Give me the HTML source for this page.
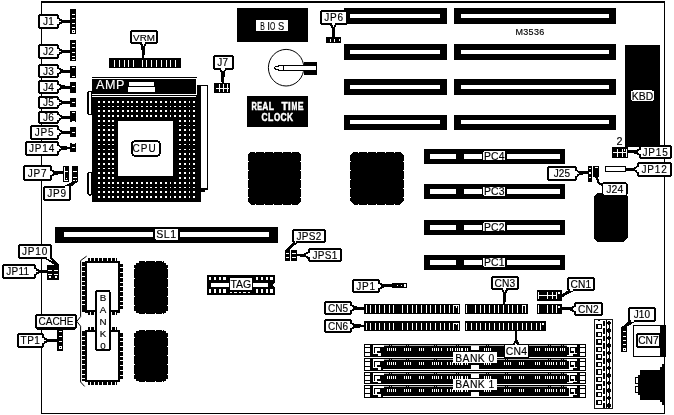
<!DOCTYPE html>
<html><head><meta charset="utf-8"><title>M3536</title>
<style>
html,body{margin:0;padding:0;background:#fff;}
body{width:674px;height:415px;overflow:hidden;font-family:"Liberation Sans",sans-serif;}
svg{display:block;filter:grayscale(1);font-family:"Liberation Sans",sans-serif;}
</style></head><body>
<svg width="674" height="415" viewBox="0 0 674 415" shape-rendering="crispEdges">
<rect x="0" y="0" width="674" height="415" fill="#fff"/>
<rect x="41.10" y="1.05" width="623.90" height="1.60" fill="#000" />
<rect x="41.10" y="412.70" width="623.90" height="1.20" fill="#000" />
<rect x="41.10" y="1.05" width="1.20" height="412.85" fill="#000" />
<rect x="664.00" y="1.05" width="1.00" height="412.85" fill="#000" />
<rect x="70.30" y="9.00" width="5.60" height="24.70" fill="#000" />
<rect x="72.00" y="14.00" width="3.00" height="1.00" fill="#fff" />
<rect x="72.00" y="18.00" width="3.00" height="1.00" fill="#fff" />
<rect x="72.00" y="23.00" width="3.00" height="1.00" fill="#fff" />
<rect x="72.00" y="27.00" width="3.00" height="1.00" fill="#fff" />
<rect x="72.00" y="30.00" width="3.00" height="3.00" fill="#fff" />
<rect x="73.00" y="31.00" width="1.00" height="1.00" fill="#000" />
<rect x="70.30" y="40.00" width="5.60" height="20.80" fill="#000" />
<rect x="72.00" y="43.00" width="3.00" height="1.00" fill="#fff" />
<rect x="72.00" y="47.00" width="3.00" height="1.00" fill="#fff" />
<rect x="72.00" y="52.00" width="3.00" height="1.00" fill="#fff" />
<rect x="72.00" y="56.00" width="3.00" height="1.00" fill="#fff" />
<rect x="72.00" y="59.00" width="3.00" height="1.00" fill="#fff" />
<rect x="70.30" y="66.00" width="5.60" height="12.00" fill="#000" />
<rect x="72.00" y="67.00" width="3.00" height="1.00" fill="#fff" />
<rect x="72.00" y="76.00" width="3.00" height="1.00" fill="#fff" />
<rect x="70.30" y="82.00" width="5.60" height="11.00" fill="#000" />
<rect x="72.00" y="86.00" width="3.00" height="1.00" fill="#fff" />
<rect x="70.30" y="97.50" width="5.60" height="9.80" fill="#000" />
<rect x="72.00" y="102.00" width="3.00" height="1.00" fill="#fff" />
<rect x="70.30" y="111.00" width="5.60" height="11.40" fill="#000" />
<rect x="72.00" y="112.00" width="3.00" height="1.00" fill="#fff" />
<rect x="72.00" y="121.00" width="3.00" height="1.00" fill="#fff" />
<rect x="70.30" y="127.00" width="5.60" height="10.40" fill="#000" />
<rect x="72.00" y="132.00" width="3.00" height="1.00" fill="#fff" />
<rect x="70.30" y="142.60" width="5.60" height="9.70" fill="#000" />
<rect x="72.00" y="143.00" width="3.00" height="1.00" fill="#fff" />
<rect x="72.00" y="147.00" width="3.00" height="1.00" fill="#fff" />
<rect x="39.00" y="15.00" width="19.00" height="13.00" fill="#fff" stroke="#000" stroke-width="2.0" rx="2.2"/>
<polygon points="58.00,18.30 61.41,20.63 70.30,21.35 70.30,21.85 61.39,22.43 58.00,24.70" fill="#fff" stroke="#000" stroke-width="2.0" stroke-linejoin="miter"/>
<rect x="56.40" y="19.30" width="2.70" height="4.40" fill="#fff" />
<rect x="39.00" y="45.00" width="19.00" height="13.00" fill="#fff" stroke="#000" stroke-width="2.0" rx="2.2"/>
<polygon points="58.00,48.30 61.41,50.63 70.30,51.35 70.30,51.85 61.39,52.43 58.00,54.70" fill="#fff" stroke="#000" stroke-width="2.0" stroke-linejoin="miter"/>
<rect x="56.40" y="49.30" width="2.70" height="4.40" fill="#fff" />
<rect x="39.00" y="65.00" width="19.00" height="12.00" fill="#fff" stroke="#000" stroke-width="2.0" rx="2.2"/>
<polygon points="58.00,67.80 61.44,70.27 70.31,71.35 70.29,71.85 61.35,72.06 58.00,74.20" fill="#fff" stroke="#000" stroke-width="2.0" stroke-linejoin="miter"/>
<rect x="56.40" y="68.80" width="2.70" height="4.40" fill="#fff" />
<rect x="39.00" y="81.00" width="19.00" height="12.00" fill="#fff" stroke="#000" stroke-width="2.0" rx="2.2"/>
<polygon points="58.00,83.80 61.42,86.18 70.31,87.05 70.29,87.55 61.38,87.98 58.00,90.20" fill="#fff" stroke="#000" stroke-width="2.0" stroke-linejoin="miter"/>
<rect x="56.40" y="84.80" width="2.70" height="4.40" fill="#fff" />
<rect x="39.00" y="97.00" width="19.00" height="11.00" fill="#fff" stroke="#000" stroke-width="2.0" rx="2.2"/>
<polygon points="58.00,99.30 61.39,101.57 70.30,102.15 70.30,102.65 61.41,103.37 58.00,105.70" fill="#fff" stroke="#000" stroke-width="2.0" stroke-linejoin="miter"/>
<rect x="56.40" y="100.30" width="2.70" height="4.40" fill="#fff" />
<rect x="39.00" y="112.00" width="19.00" height="11.00" fill="#fff" stroke="#000" stroke-width="2.0" rx="2.2"/>
<polygon points="58.00,114.30 61.38,116.52 70.29,116.95 70.31,117.45 61.42,118.32 58.00,120.70" fill="#fff" stroke="#000" stroke-width="2.0" stroke-linejoin="miter"/>
<rect x="56.40" y="115.30" width="2.70" height="4.40" fill="#fff" />
<rect x="31.00" y="126.00" width="27.00" height="13.00" fill="#fff" stroke="#000" stroke-width="2.0" rx="2.2"/>
<polygon points="58.00,129.30 61.38,131.52 70.29,131.95 70.31,132.45 61.42,133.32 58.00,135.70" fill="#fff" stroke="#000" stroke-width="2.0" stroke-linejoin="miter"/>
<rect x="56.40" y="130.30" width="2.70" height="4.40" fill="#fff" />
<rect x="26.00" y="142.00" width="32.00" height="13.00" fill="#fff" stroke="#000" stroke-width="2.0" rx="2.2"/>
<polygon points="58.00,145.30 61.34,147.41 70.29,147.55 70.31,148.05 61.45,149.21 58.00,151.70" fill="#fff" stroke="#000" stroke-width="2.0" stroke-linejoin="miter"/>
<rect x="56.40" y="146.30" width="2.70" height="4.40" fill="#fff" />
<rect x="62.90" y="165.80" width="6.10" height="16.00" fill="#000" />
<rect x="64.00" y="167.00" width="1.00" height="14.00" fill="#fff" />
<rect x="65.00" y="171.00" width="3.00" height="1.00" fill="#fff" />
<rect x="65.00" y="180.00" width="3.00" height="1.00" fill="#fff" />
<rect x="66.00" y="177.60" width="1.20" height="1.20" fill="#fff" />
<rect x="72.20" y="165.80" width="5.80" height="16.00" fill="#000" />
<rect x="73.30" y="171.00" width="3.70" height="1.00" fill="#fff" />
<rect x="73.30" y="177.00" width="3.70" height="1.00" fill="#fff" />
<rect x="73.30" y="180.00" width="3.70" height="1.00" fill="#fff" />
<rect x="24.00" y="166.00" width="27.00" height="14.00" fill="#fff" stroke="#000" stroke-width="2.0" rx="2.2"/>
<polygon points="51.00,169.80 54.38,172.04 63.20,172.55 63.20,173.05 54.41,173.84 51.00,176.20" fill="#fff" stroke="#000" stroke-width="2.0" stroke-linejoin="miter"/>
<rect x="49.40" y="170.80" width="2.70" height="4.40" fill="#fff" />
<rect x="44.00" y="187.00" width="26.00" height="13.00" fill="#fff" stroke="#000" stroke-width="2.0" rx="2.2"/>
<polygon points="64.40,187.00 69.44,184.47 75.47,181.59 75.73,182.01 70.38,186.01 69.60,187.00" fill="#fff" stroke="#000" stroke-width="2.0" stroke-linejoin="miter"/>
<rect x="65.40" y="185.90" width="3.20" height="2.70" fill="#fff" />
<rect x="108.90" y="57.90" width="72.10" height="10.10" fill="#000" />
<rect x="114.00" y="59.50" width="1.00" height="7.30" fill="#fff" />
<rect x="119.00" y="59.50" width="1.00" height="7.30" fill="#fff" />
<rect x="124.00" y="59.50" width="1.00" height="7.30" fill="#fff" />
<rect x="128.00" y="59.50" width="1.00" height="7.30" fill="#fff" />
<rect x="133.00" y="59.50" width="1.00" height="7.30" fill="#fff" />
<rect x="142.00" y="59.50" width="1.00" height="7.30" fill="#fff" />
<rect x="146.00" y="59.50" width="1.00" height="7.30" fill="#fff" />
<rect x="151.00" y="59.50" width="1.00" height="7.30" fill="#fff" />
<rect x="156.00" y="59.50" width="1.00" height="7.30" fill="#fff" />
<rect x="161.00" y="59.50" width="1.00" height="7.30" fill="#fff" />
<rect x="166.00" y="59.50" width="1.00" height="7.30" fill="#fff" />
<rect x="170.00" y="59.50" width="1.00" height="7.30" fill="#fff" />
<rect x="175.00" y="59.50" width="1.00" height="7.30" fill="#fff" />
<rect x="131.00" y="31.00" width="26.00" height="12.00" fill="#fff" stroke="#000" stroke-width="2.0" rx="2.2"/>
<polygon points="140.60,43.00 142.41,46.37 142.75,57.99 143.25,58.01 144.21,46.42 146.20,43.00" fill="#fff" stroke="#000" stroke-width="2.0" stroke-linejoin="miter"/>
<rect x="141.60" y="41.40" width="3.60" height="2.70" fill="#fff" />
<rect x="214.10" y="83.00" width="16.00" height="9.80" fill="#000" />
<rect x="215.60" y="88.10" width="13.20" height="1.10" fill="#fff" />
<rect x="218.70" y="84.40" width="1.00" height="7.20" fill="#fff" />
<rect x="222.90" y="84.40" width="1.00" height="7.20" fill="#fff" />
<rect x="227.10" y="84.40" width="1.00" height="7.20" fill="#fff" />
<rect x="214.00" y="56.00" width="19.00" height="13.00" fill="#fff" stroke="#000" stroke-width="2.0" rx="2.2"/>
<polygon points="220.20,69.00 222.05,72.39 222.55,83.00 223.05,83.00 223.85,72.41 225.80,69.00" fill="#fff" stroke="#000" stroke-width="2.0" stroke-linejoin="miter"/>
<rect x="221.20" y="67.40" width="3.60" height="2.70" fill="#fff" />
<rect x="92.00" y="77.00" width="105.00" height="1.30" fill="#000" />
<rect x="92.00" y="79.30" width="104.40" height="14.50" fill="#000" />
<rect x="92.50" y="79.60" width="103.50" height="0.80" fill="#999" />
<rect x="129.30" y="82.00" width="24.50" height="4.00" fill="#fff" />
<rect x="127.90" y="87.00" width="26.90" height="4.60" fill="#fff" />
<rect x="92.00" y="95.00" width="109.20" height="107.00" fill="#000" />
<rect x="92.00" y="96.20" width="104.40" height="1.00" fill="#fff" />
<rect x="197.00" y="85.00" width="11.00" height="105.00" fill="#000" />
<rect x="201.40" y="86.20" width="5.60" height="102.20" fill="#fff" />
<rect x="200.80" y="188.20" width="3.70" height="4.00" fill="#000" />
<rect x="88.00" y="91.50" width="3.60" height="22.70" fill="#fff" stroke="#000" stroke-width="1.3" rx="1"/>
<rect x="88.00" y="172.60" width="3.60" height="22.40" fill="#fff" stroke="#000" stroke-width="1.3" rx="1"/>
<rect x="118.40" y="121.00" width="54.80" height="54.80" fill="#fff" />
<rect x="98.10" y="100.90" width="1.90" height="1.70" fill="#fff" />
<rect x="102.86" y="100.90" width="1.90" height="1.70" fill="#fff" />
<rect x="107.62" y="100.90" width="1.90" height="1.70" fill="#fff" />
<rect x="112.38" y="100.90" width="1.90" height="1.70" fill="#fff" />
<rect x="117.14" y="100.90" width="1.90" height="1.70" fill="#fff" />
<rect x="121.90" y="100.90" width="1.90" height="1.70" fill="#fff" />
<rect x="126.66" y="100.90" width="1.90" height="1.70" fill="#fff" />
<rect x="131.42" y="100.90" width="1.90" height="1.70" fill="#fff" />
<rect x="136.18" y="100.90" width="1.90" height="1.70" fill="#fff" />
<rect x="140.94" y="100.90" width="1.90" height="1.70" fill="#fff" />
<rect x="145.70" y="100.90" width="1.90" height="1.70" fill="#fff" />
<rect x="150.46" y="100.90" width="1.90" height="1.70" fill="#fff" />
<rect x="155.22" y="100.90" width="1.90" height="1.70" fill="#fff" />
<rect x="159.98" y="100.90" width="1.90" height="1.70" fill="#fff" />
<rect x="164.74" y="100.90" width="1.90" height="1.70" fill="#fff" />
<rect x="169.50" y="100.90" width="1.90" height="1.70" fill="#fff" />
<rect x="174.26" y="100.90" width="1.90" height="1.70" fill="#fff" />
<rect x="179.02" y="100.90" width="1.90" height="1.70" fill="#fff" />
<rect x="183.78" y="100.90" width="1.90" height="1.70" fill="#fff" />
<rect x="188.54" y="100.90" width="1.90" height="1.70" fill="#fff" />
<rect x="193.30" y="100.90" width="1.90" height="1.70" fill="#fff" />
<rect x="98.10" y="105.67" width="1.90" height="1.70" fill="#fff" />
<rect x="102.86" y="105.67" width="1.90" height="1.70" fill="#fff" />
<rect x="107.62" y="105.67" width="1.90" height="1.70" fill="#fff" />
<rect x="112.38" y="105.67" width="1.90" height="1.70" fill="#fff" />
<rect x="117.14" y="105.67" width="1.90" height="1.70" fill="#fff" />
<rect x="121.90" y="105.67" width="1.90" height="1.70" fill="#fff" />
<rect x="126.66" y="105.67" width="1.90" height="1.70" fill="#fff" />
<rect x="131.42" y="105.67" width="1.90" height="1.70" fill="#fff" />
<rect x="136.18" y="105.67" width="1.90" height="1.70" fill="#fff" />
<rect x="140.94" y="105.67" width="1.90" height="1.70" fill="#fff" />
<rect x="145.70" y="105.67" width="1.90" height="1.70" fill="#fff" />
<rect x="150.46" y="105.67" width="1.90" height="1.70" fill="#fff" />
<rect x="155.22" y="105.67" width="1.90" height="1.70" fill="#fff" />
<rect x="159.98" y="105.67" width="1.90" height="1.70" fill="#fff" />
<rect x="164.74" y="105.67" width="1.90" height="1.70" fill="#fff" />
<rect x="169.50" y="105.67" width="1.90" height="1.70" fill="#fff" />
<rect x="174.26" y="105.67" width="1.90" height="1.70" fill="#fff" />
<rect x="179.02" y="105.67" width="1.90" height="1.70" fill="#fff" />
<rect x="183.78" y="105.67" width="1.90" height="1.70" fill="#fff" />
<rect x="188.54" y="105.67" width="1.90" height="1.70" fill="#fff" />
<rect x="193.30" y="105.67" width="1.90" height="1.70" fill="#fff" />
<rect x="98.10" y="110.43" width="1.90" height="1.70" fill="#fff" />
<rect x="102.86" y="110.43" width="1.90" height="1.70" fill="#fff" />
<rect x="107.62" y="110.43" width="1.90" height="1.70" fill="#fff" />
<rect x="112.38" y="110.43" width="1.90" height="1.70" fill="#fff" />
<rect x="117.14" y="110.43" width="1.90" height="1.70" fill="#fff" />
<rect x="121.90" y="110.43" width="1.90" height="1.70" fill="#fff" />
<rect x="126.66" y="110.43" width="1.90" height="1.70" fill="#fff" />
<rect x="131.42" y="110.43" width="1.90" height="1.70" fill="#fff" />
<rect x="136.18" y="110.43" width="1.90" height="1.70" fill="#fff" />
<rect x="140.94" y="110.43" width="1.90" height="1.70" fill="#fff" />
<rect x="145.70" y="110.43" width="1.90" height="1.70" fill="#fff" />
<rect x="150.46" y="110.43" width="1.90" height="1.70" fill="#fff" />
<rect x="155.22" y="110.43" width="1.90" height="1.70" fill="#fff" />
<rect x="159.98" y="110.43" width="1.90" height="1.70" fill="#fff" />
<rect x="164.74" y="110.43" width="1.90" height="1.70" fill="#fff" />
<rect x="169.50" y="110.43" width="1.90" height="1.70" fill="#fff" />
<rect x="174.26" y="110.43" width="1.90" height="1.70" fill="#fff" />
<rect x="179.02" y="110.43" width="1.90" height="1.70" fill="#fff" />
<rect x="183.78" y="110.43" width="1.90" height="1.70" fill="#fff" />
<rect x="188.54" y="110.43" width="1.90" height="1.70" fill="#fff" />
<rect x="193.30" y="110.43" width="1.90" height="1.70" fill="#fff" />
<rect x="98.10" y="115.20" width="1.90" height="1.70" fill="#fff" />
<rect x="102.86" y="115.20" width="1.90" height="1.70" fill="#fff" />
<rect x="107.62" y="115.20" width="1.90" height="1.70" fill="#fff" />
<rect x="112.38" y="115.20" width="1.90" height="1.70" fill="#fff" />
<rect x="117.14" y="115.20" width="1.90" height="1.70" fill="#fff" />
<rect x="121.90" y="115.20" width="1.90" height="1.70" fill="#fff" />
<rect x="126.66" y="115.20" width="1.90" height="1.70" fill="#fff" />
<rect x="131.42" y="115.20" width="1.90" height="1.70" fill="#fff" />
<rect x="136.18" y="115.20" width="1.90" height="1.70" fill="#fff" />
<rect x="140.94" y="115.20" width="1.90" height="1.70" fill="#fff" />
<rect x="145.70" y="115.20" width="1.90" height="1.70" fill="#fff" />
<rect x="150.46" y="115.20" width="1.90" height="1.70" fill="#fff" />
<rect x="155.22" y="115.20" width="1.90" height="1.70" fill="#fff" />
<rect x="159.98" y="115.20" width="1.90" height="1.70" fill="#fff" />
<rect x="164.74" y="115.20" width="1.90" height="1.70" fill="#fff" />
<rect x="169.50" y="115.20" width="1.90" height="1.70" fill="#fff" />
<rect x="174.26" y="115.20" width="1.90" height="1.70" fill="#fff" />
<rect x="179.02" y="115.20" width="1.90" height="1.70" fill="#fff" />
<rect x="183.78" y="115.20" width="1.90" height="1.70" fill="#fff" />
<rect x="188.54" y="115.20" width="1.90" height="1.70" fill="#fff" />
<rect x="193.30" y="115.20" width="1.90" height="1.70" fill="#fff" />
<rect x="98.10" y="119.96" width="1.90" height="1.70" fill="#fff" />
<rect x="102.86" y="119.96" width="1.90" height="1.70" fill="#fff" />
<rect x="107.62" y="119.96" width="1.90" height="1.70" fill="#fff" />
<rect x="112.38" y="119.96" width="1.90" height="1.70" fill="#fff" />
<rect x="179.02" y="119.96" width="1.90" height="1.70" fill="#fff" />
<rect x="183.78" y="119.96" width="1.90" height="1.70" fill="#fff" />
<rect x="188.54" y="119.96" width="1.90" height="1.70" fill="#fff" />
<rect x="193.30" y="119.96" width="1.90" height="1.70" fill="#fff" />
<rect x="98.10" y="124.73" width="1.90" height="1.70" fill="#fff" />
<rect x="102.86" y="124.73" width="1.90" height="1.70" fill="#fff" />
<rect x="107.62" y="124.73" width="1.90" height="1.70" fill="#fff" />
<rect x="112.38" y="124.73" width="1.90" height="1.70" fill="#fff" />
<rect x="179.02" y="124.73" width="1.90" height="1.70" fill="#fff" />
<rect x="183.78" y="124.73" width="1.90" height="1.70" fill="#fff" />
<rect x="188.54" y="124.73" width="1.90" height="1.70" fill="#fff" />
<rect x="193.30" y="124.73" width="1.90" height="1.70" fill="#fff" />
<rect x="98.10" y="129.49" width="1.90" height="1.70" fill="#fff" />
<rect x="102.86" y="129.49" width="1.90" height="1.70" fill="#fff" />
<rect x="107.62" y="129.49" width="1.90" height="1.70" fill="#fff" />
<rect x="112.38" y="129.49" width="1.90" height="1.70" fill="#fff" />
<rect x="179.02" y="129.49" width="1.90" height="1.70" fill="#fff" />
<rect x="183.78" y="129.49" width="1.90" height="1.70" fill="#fff" />
<rect x="188.54" y="129.49" width="1.90" height="1.70" fill="#fff" />
<rect x="193.30" y="129.49" width="1.90" height="1.70" fill="#fff" />
<rect x="98.10" y="134.25" width="1.90" height="1.70" fill="#fff" />
<rect x="102.86" y="134.25" width="1.90" height="1.70" fill="#fff" />
<rect x="107.62" y="134.25" width="1.90" height="1.70" fill="#fff" />
<rect x="112.38" y="134.25" width="1.90" height="1.70" fill="#fff" />
<rect x="179.02" y="134.25" width="1.90" height="1.70" fill="#fff" />
<rect x="183.78" y="134.25" width="1.90" height="1.70" fill="#fff" />
<rect x="188.54" y="134.25" width="1.90" height="1.70" fill="#fff" />
<rect x="193.30" y="134.25" width="1.90" height="1.70" fill="#fff" />
<rect x="98.10" y="139.02" width="1.90" height="1.70" fill="#fff" />
<rect x="102.86" y="139.02" width="1.90" height="1.70" fill="#fff" />
<rect x="107.62" y="139.02" width="1.90" height="1.70" fill="#fff" />
<rect x="112.38" y="139.02" width="1.90" height="1.70" fill="#fff" />
<rect x="179.02" y="139.02" width="1.90" height="1.70" fill="#fff" />
<rect x="183.78" y="139.02" width="1.90" height="1.70" fill="#fff" />
<rect x="188.54" y="139.02" width="1.90" height="1.70" fill="#fff" />
<rect x="193.30" y="139.02" width="1.90" height="1.70" fill="#fff" />
<rect x="98.10" y="143.78" width="1.90" height="1.70" fill="#fff" />
<rect x="102.86" y="143.78" width="1.90" height="1.70" fill="#fff" />
<rect x="107.62" y="143.78" width="1.90" height="1.70" fill="#fff" />
<rect x="112.38" y="143.78" width="1.90" height="1.70" fill="#fff" />
<rect x="179.02" y="143.78" width="1.90" height="1.70" fill="#fff" />
<rect x="183.78" y="143.78" width="1.90" height="1.70" fill="#fff" />
<rect x="188.54" y="143.78" width="1.90" height="1.70" fill="#fff" />
<rect x="193.30" y="143.78" width="1.90" height="1.70" fill="#fff" />
<rect x="98.10" y="148.55" width="1.90" height="1.70" fill="#fff" />
<rect x="102.86" y="148.55" width="1.90" height="1.70" fill="#fff" />
<rect x="107.62" y="148.55" width="1.90" height="1.70" fill="#fff" />
<rect x="112.38" y="148.55" width="1.90" height="1.70" fill="#fff" />
<rect x="179.02" y="148.55" width="1.90" height="1.70" fill="#fff" />
<rect x="183.78" y="148.55" width="1.90" height="1.70" fill="#fff" />
<rect x="188.54" y="148.55" width="1.90" height="1.70" fill="#fff" />
<rect x="193.30" y="148.55" width="1.90" height="1.70" fill="#fff" />
<rect x="98.10" y="153.31" width="1.90" height="1.70" fill="#fff" />
<rect x="102.86" y="153.31" width="1.90" height="1.70" fill="#fff" />
<rect x="107.62" y="153.31" width="1.90" height="1.70" fill="#fff" />
<rect x="112.38" y="153.31" width="1.90" height="1.70" fill="#fff" />
<rect x="179.02" y="153.31" width="1.90" height="1.70" fill="#fff" />
<rect x="183.78" y="153.31" width="1.90" height="1.70" fill="#fff" />
<rect x="188.54" y="153.31" width="1.90" height="1.70" fill="#fff" />
<rect x="193.30" y="153.31" width="1.90" height="1.70" fill="#fff" />
<rect x="98.10" y="158.08" width="1.90" height="1.70" fill="#fff" />
<rect x="102.86" y="158.08" width="1.90" height="1.70" fill="#fff" />
<rect x="107.62" y="158.08" width="1.90" height="1.70" fill="#fff" />
<rect x="112.38" y="158.08" width="1.90" height="1.70" fill="#fff" />
<rect x="179.02" y="158.08" width="1.90" height="1.70" fill="#fff" />
<rect x="183.78" y="158.08" width="1.90" height="1.70" fill="#fff" />
<rect x="188.54" y="158.08" width="1.90" height="1.70" fill="#fff" />
<rect x="193.30" y="158.08" width="1.90" height="1.70" fill="#fff" />
<rect x="98.10" y="162.84" width="1.90" height="1.70" fill="#fff" />
<rect x="102.86" y="162.84" width="1.90" height="1.70" fill="#fff" />
<rect x="107.62" y="162.84" width="1.90" height="1.70" fill="#fff" />
<rect x="112.38" y="162.84" width="1.90" height="1.70" fill="#fff" />
<rect x="179.02" y="162.84" width="1.90" height="1.70" fill="#fff" />
<rect x="183.78" y="162.84" width="1.90" height="1.70" fill="#fff" />
<rect x="188.54" y="162.84" width="1.90" height="1.70" fill="#fff" />
<rect x="193.30" y="162.84" width="1.90" height="1.70" fill="#fff" />
<rect x="98.10" y="167.61" width="1.90" height="1.70" fill="#fff" />
<rect x="102.86" y="167.61" width="1.90" height="1.70" fill="#fff" />
<rect x="107.62" y="167.61" width="1.90" height="1.70" fill="#fff" />
<rect x="112.38" y="167.61" width="1.90" height="1.70" fill="#fff" />
<rect x="179.02" y="167.61" width="1.90" height="1.70" fill="#fff" />
<rect x="183.78" y="167.61" width="1.90" height="1.70" fill="#fff" />
<rect x="188.54" y="167.61" width="1.90" height="1.70" fill="#fff" />
<rect x="193.30" y="167.61" width="1.90" height="1.70" fill="#fff" />
<rect x="98.10" y="172.38" width="1.90" height="1.70" fill="#fff" />
<rect x="102.86" y="172.38" width="1.90" height="1.70" fill="#fff" />
<rect x="107.62" y="172.38" width="1.90" height="1.70" fill="#fff" />
<rect x="112.38" y="172.38" width="1.90" height="1.70" fill="#fff" />
<rect x="179.02" y="172.38" width="1.90" height="1.70" fill="#fff" />
<rect x="183.78" y="172.38" width="1.90" height="1.70" fill="#fff" />
<rect x="188.54" y="172.38" width="1.90" height="1.70" fill="#fff" />
<rect x="193.30" y="172.38" width="1.90" height="1.70" fill="#fff" />
<rect x="98.10" y="177.14" width="1.90" height="1.70" fill="#fff" />
<rect x="102.86" y="177.14" width="1.90" height="1.70" fill="#fff" />
<rect x="107.62" y="177.14" width="1.90" height="1.70" fill="#fff" />
<rect x="112.38" y="177.14" width="1.90" height="1.70" fill="#fff" />
<rect x="179.02" y="177.14" width="1.90" height="1.70" fill="#fff" />
<rect x="183.78" y="177.14" width="1.90" height="1.70" fill="#fff" />
<rect x="188.54" y="177.14" width="1.90" height="1.70" fill="#fff" />
<rect x="193.30" y="177.14" width="1.90" height="1.70" fill="#fff" />
<rect x="98.10" y="181.91" width="1.90" height="1.70" fill="#fff" />
<rect x="102.86" y="181.91" width="1.90" height="1.70" fill="#fff" />
<rect x="107.62" y="181.91" width="1.90" height="1.70" fill="#fff" />
<rect x="112.38" y="181.91" width="1.90" height="1.70" fill="#fff" />
<rect x="117.14" y="181.91" width="1.90" height="1.70" fill="#fff" />
<rect x="121.90" y="181.91" width="1.90" height="1.70" fill="#fff" />
<rect x="126.66" y="181.91" width="1.90" height="1.70" fill="#fff" />
<rect x="131.42" y="181.91" width="1.90" height="1.70" fill="#fff" />
<rect x="136.18" y="181.91" width="1.90" height="1.70" fill="#fff" />
<rect x="140.94" y="181.91" width="1.90" height="1.70" fill="#fff" />
<rect x="145.70" y="181.91" width="1.90" height="1.70" fill="#fff" />
<rect x="150.46" y="181.91" width="1.90" height="1.70" fill="#fff" />
<rect x="155.22" y="181.91" width="1.90" height="1.70" fill="#fff" />
<rect x="159.98" y="181.91" width="1.90" height="1.70" fill="#fff" />
<rect x="164.74" y="181.91" width="1.90" height="1.70" fill="#fff" />
<rect x="169.50" y="181.91" width="1.90" height="1.70" fill="#fff" />
<rect x="174.26" y="181.91" width="1.90" height="1.70" fill="#fff" />
<rect x="179.02" y="181.91" width="1.90" height="1.70" fill="#fff" />
<rect x="183.78" y="181.91" width="1.90" height="1.70" fill="#fff" />
<rect x="188.54" y="181.91" width="1.90" height="1.70" fill="#fff" />
<rect x="193.30" y="181.91" width="1.90" height="1.70" fill="#fff" />
<rect x="98.10" y="186.67" width="1.90" height="1.70" fill="#fff" />
<rect x="102.86" y="186.67" width="1.90" height="1.70" fill="#fff" />
<rect x="107.62" y="186.67" width="1.90" height="1.70" fill="#fff" />
<rect x="112.38" y="186.67" width="1.90" height="1.70" fill="#fff" />
<rect x="117.14" y="186.67" width="1.90" height="1.70" fill="#fff" />
<rect x="121.90" y="186.67" width="1.90" height="1.70" fill="#fff" />
<rect x="126.66" y="186.67" width="1.90" height="1.70" fill="#fff" />
<rect x="131.42" y="186.67" width="1.90" height="1.70" fill="#fff" />
<rect x="136.18" y="186.67" width="1.90" height="1.70" fill="#fff" />
<rect x="140.94" y="186.67" width="1.90" height="1.70" fill="#fff" />
<rect x="145.70" y="186.67" width="1.90" height="1.70" fill="#fff" />
<rect x="150.46" y="186.67" width="1.90" height="1.70" fill="#fff" />
<rect x="155.22" y="186.67" width="1.90" height="1.70" fill="#fff" />
<rect x="159.98" y="186.67" width="1.90" height="1.70" fill="#fff" />
<rect x="164.74" y="186.67" width="1.90" height="1.70" fill="#fff" />
<rect x="169.50" y="186.67" width="1.90" height="1.70" fill="#fff" />
<rect x="174.26" y="186.67" width="1.90" height="1.70" fill="#fff" />
<rect x="179.02" y="186.67" width="1.90" height="1.70" fill="#fff" />
<rect x="183.78" y="186.67" width="1.90" height="1.70" fill="#fff" />
<rect x="188.54" y="186.67" width="1.90" height="1.70" fill="#fff" />
<rect x="193.30" y="186.67" width="1.90" height="1.70" fill="#fff" />
<rect x="98.10" y="191.44" width="1.90" height="1.70" fill="#fff" />
<rect x="102.86" y="191.44" width="1.90" height="1.70" fill="#fff" />
<rect x="107.62" y="191.44" width="1.90" height="1.70" fill="#fff" />
<rect x="112.38" y="191.44" width="1.90" height="1.70" fill="#fff" />
<rect x="117.14" y="191.44" width="1.90" height="1.70" fill="#fff" />
<rect x="121.90" y="191.44" width="1.90" height="1.70" fill="#fff" />
<rect x="126.66" y="191.44" width="1.90" height="1.70" fill="#fff" />
<rect x="131.42" y="191.44" width="1.90" height="1.70" fill="#fff" />
<rect x="136.18" y="191.44" width="1.90" height="1.70" fill="#fff" />
<rect x="140.94" y="191.44" width="1.90" height="1.70" fill="#fff" />
<rect x="145.70" y="191.44" width="1.90" height="1.70" fill="#fff" />
<rect x="150.46" y="191.44" width="1.90" height="1.70" fill="#fff" />
<rect x="155.22" y="191.44" width="1.90" height="1.70" fill="#fff" />
<rect x="159.98" y="191.44" width="1.90" height="1.70" fill="#fff" />
<rect x="164.74" y="191.44" width="1.90" height="1.70" fill="#fff" />
<rect x="169.50" y="191.44" width="1.90" height="1.70" fill="#fff" />
<rect x="174.26" y="191.44" width="1.90" height="1.70" fill="#fff" />
<rect x="179.02" y="191.44" width="1.90" height="1.70" fill="#fff" />
<rect x="183.78" y="191.44" width="1.90" height="1.70" fill="#fff" />
<rect x="188.54" y="191.44" width="1.90" height="1.70" fill="#fff" />
<rect x="193.30" y="191.44" width="1.90" height="1.70" fill="#fff" />
<rect x="98.10" y="196.20" width="1.90" height="1.70" fill="#fff" />
<rect x="102.86" y="196.20" width="1.90" height="1.70" fill="#fff" />
<rect x="107.62" y="196.20" width="1.90" height="1.70" fill="#fff" />
<rect x="112.38" y="196.20" width="1.90" height="1.70" fill="#fff" />
<rect x="117.14" y="196.20" width="1.90" height="1.70" fill="#fff" />
<rect x="121.90" y="196.20" width="1.90" height="1.70" fill="#fff" />
<rect x="126.66" y="196.20" width="1.90" height="1.70" fill="#fff" />
<rect x="131.42" y="196.20" width="1.90" height="1.70" fill="#fff" />
<rect x="136.18" y="196.20" width="1.90" height="1.70" fill="#fff" />
<rect x="140.94" y="196.20" width="1.90" height="1.70" fill="#fff" />
<rect x="145.70" y="196.20" width="1.90" height="1.70" fill="#fff" />
<rect x="150.46" y="196.20" width="1.90" height="1.70" fill="#fff" />
<rect x="155.22" y="196.20" width="1.90" height="1.70" fill="#fff" />
<rect x="159.98" y="196.20" width="1.90" height="1.70" fill="#fff" />
<rect x="164.74" y="196.20" width="1.90" height="1.70" fill="#fff" />
<rect x="169.50" y="196.20" width="1.90" height="1.70" fill="#fff" />
<rect x="174.26" y="196.20" width="1.90" height="1.70" fill="#fff" />
<rect x="179.02" y="196.20" width="1.90" height="1.70" fill="#fff" />
<rect x="183.78" y="196.20" width="1.90" height="1.70" fill="#fff" />
<rect x="188.54" y="196.20" width="1.90" height="1.70" fill="#fff" />
<rect x="193.30" y="196.20" width="1.90" height="1.70" fill="#fff" />
<rect x="132.00" y="141.00" width="28.00" height="15.00" fill="#fff" stroke="#000" stroke-width="2.0" rx="3.5"/>
<rect x="237.00" y="8.10" width="71.00" height="33.70" fill="#000" />
<rect x="256.00" y="20.10" width="32.10" height="10.90" fill="#fff" />
<rect x="303.80" y="61.90" width="13.10" height="12.70" fill="#000" />
<ellipse cx="286.1" cy="67.7" rx="17.7" ry="18.3" fill="#fff" stroke="#000" stroke-width="1.0" shape-rendering="auto"/>
<polygon points="274.5,67.8 275.8,66.5 278,66.5 278,65.5 316,65.5 316,70.5 278,70.5 278,69.5 275.8,69.5" fill="#fff" stroke="#000" stroke-width="1.0"/>
<rect x="282.60" y="65.00" width="1.00" height="5.80" fill="#000" />
<rect x="247.00" y="96.00" width="61.00" height="30.80" fill="#000" />
<polygon points="251.20,151.50 297.70,151.50 301.20,155.00 301.20,201.20 297.70,204.70 251.20,204.70 247.70,201.20 247.70,155.00" fill="#000"/>
<rect x="255.30" y="151.50" width="0.80" height="1.20" fill="#fff" />
<rect x="255.30" y="203.50" width="0.80" height="1.20" fill="#fff" />
<rect x="264.30" y="151.50" width="0.80" height="1.20" fill="#fff" />
<rect x="264.30" y="203.50" width="0.80" height="1.20" fill="#fff" />
<rect x="273.30" y="151.50" width="0.80" height="1.20" fill="#fff" />
<rect x="273.30" y="203.50" width="0.80" height="1.20" fill="#fff" />
<rect x="282.30" y="151.50" width="0.80" height="1.20" fill="#fff" />
<rect x="282.30" y="203.50" width="0.80" height="1.20" fill="#fff" />
<rect x="291.30" y="151.50" width="0.80" height="1.20" fill="#fff" />
<rect x="291.30" y="203.50" width="0.80" height="1.20" fill="#fff" />
<rect x="247.70" y="161.10" width="1.20" height="0.80" fill="#fff" />
<rect x="300.00" y="161.10" width="1.20" height="0.80" fill="#fff" />
<rect x="247.70" y="170.10" width="1.20" height="0.80" fill="#fff" />
<rect x="300.00" y="170.10" width="1.20" height="0.80" fill="#fff" />
<rect x="247.70" y="179.10" width="1.20" height="0.80" fill="#fff" />
<rect x="300.00" y="179.10" width="1.20" height="0.80" fill="#fff" />
<rect x="247.70" y="188.10" width="1.20" height="0.80" fill="#fff" />
<rect x="300.00" y="188.10" width="1.20" height="0.80" fill="#fff" />
<rect x="247.70" y="197.10" width="1.20" height="0.80" fill="#fff" />
<rect x="300.00" y="197.10" width="1.20" height="0.80" fill="#fff" />
<polygon points="353.70,151.50 400.20,151.50 403.70,155.00 403.70,201.20 400.20,204.70 353.70,204.70 350.20,201.20 350.20,155.00" fill="#000"/>
<rect x="357.80" y="151.50" width="0.80" height="1.20" fill="#fff" />
<rect x="357.80" y="203.50" width="0.80" height="1.20" fill="#fff" />
<rect x="366.80" y="151.50" width="0.80" height="1.20" fill="#fff" />
<rect x="366.80" y="203.50" width="0.80" height="1.20" fill="#fff" />
<rect x="375.80" y="151.50" width="0.80" height="1.20" fill="#fff" />
<rect x="375.80" y="203.50" width="0.80" height="1.20" fill="#fff" />
<rect x="384.80" y="151.50" width="0.80" height="1.20" fill="#fff" />
<rect x="384.80" y="203.50" width="0.80" height="1.20" fill="#fff" />
<rect x="393.80" y="151.50" width="0.80" height="1.20" fill="#fff" />
<rect x="393.80" y="203.50" width="0.80" height="1.20" fill="#fff" />
<rect x="350.20" y="161.10" width="1.20" height="0.80" fill="#fff" />
<rect x="402.50" y="161.10" width="1.20" height="0.80" fill="#fff" />
<rect x="350.20" y="170.10" width="1.20" height="0.80" fill="#fff" />
<rect x="402.50" y="170.10" width="1.20" height="0.80" fill="#fff" />
<rect x="350.20" y="179.10" width="1.20" height="0.80" fill="#fff" />
<rect x="402.50" y="179.10" width="1.20" height="0.80" fill="#fff" />
<rect x="350.20" y="188.10" width="1.20" height="0.80" fill="#fff" />
<rect x="402.50" y="188.10" width="1.20" height="0.80" fill="#fff" />
<rect x="350.20" y="197.10" width="1.20" height="0.80" fill="#fff" />
<rect x="402.50" y="197.10" width="1.20" height="0.80" fill="#fff" />
<polygon points="597.70,193.00 624.10,193.00 627.60,196.50 627.60,238.30 624.10,241.80 597.70,241.80 594.20,238.30 594.20,196.50" fill="#000"/>
<rect x="594.20" y="204.60" width="1.20" height="0.80" fill="#fff" />
<rect x="626.40" y="204.60" width="1.20" height="0.80" fill="#fff" />
<rect x="594.20" y="213.60" width="1.20" height="0.80" fill="#fff" />
<rect x="626.40" y="213.60" width="1.20" height="0.80" fill="#fff" />
<rect x="594.20" y="222.60" width="1.20" height="0.80" fill="#fff" />
<rect x="626.40" y="222.60" width="1.20" height="0.80" fill="#fff" />
<rect x="594.20" y="231.60" width="1.20" height="0.80" fill="#fff" />
<rect x="626.40" y="231.60" width="1.20" height="0.80" fill="#fff" />
<rect x="344.00" y="8.00" width="102.90" height="15.60" fill="#000" />
<rect x="350.00" y="13.80" width="90.40" height="4.10" fill="#fff" />
<rect x="454.00" y="8.00" width="161.80" height="15.60" fill="#000" />
<rect x="460.90" y="13.80" width="148.30" height="4.10" fill="#fff" />
<rect x="344.00" y="44.30" width="102.90" height="15.60" fill="#000" />
<rect x="350.00" y="50.10" width="90.40" height="4.10" fill="#fff" />
<rect x="454.00" y="44.30" width="161.80" height="15.60" fill="#000" />
<rect x="460.90" y="50.10" width="148.30" height="4.10" fill="#fff" />
<rect x="344.00" y="79.30" width="102.90" height="15.60" fill="#000" />
<rect x="350.00" y="85.10" width="90.40" height="4.10" fill="#fff" />
<rect x="454.00" y="79.30" width="161.80" height="15.60" fill="#000" />
<rect x="460.90" y="85.10" width="148.30" height="4.10" fill="#fff" />
<rect x="344.00" y="114.50" width="102.90" height="15.60" fill="#000" />
<rect x="350.00" y="120.30" width="90.40" height="4.10" fill="#fff" />
<rect x="454.00" y="114.50" width="161.80" height="15.60" fill="#000" />
<rect x="460.90" y="120.30" width="148.30" height="4.10" fill="#fff" />
<rect x="326.30" y="37.00" width="15.00" height="5.80" fill="#000" />
<rect x="329.90" y="38.50" width="1.20" height="3.10" fill="#fff" />
<rect x="333.90" y="38.50" width="1.20" height="3.10" fill="#fff" />
<rect x="337.60" y="38.60" width="2.40" height="2.80" fill="#fff" />
<rect x="338.40" y="39.40" width="0.80" height="1.20" fill="#000" />
<rect x="321.00" y="11.00" width="26.00" height="13.00" fill="#fff" stroke="#000" stroke-width="2.0" rx="2.2"/>
<polygon points="330.60,24.00 332.50,27.40 333.15,37.00 333.65,37.00 334.30,27.40 336.20,24.00" fill="#fff" stroke="#000" stroke-width="2.0" stroke-linejoin="miter"/>
<rect x="331.60" y="22.40" width="3.60" height="2.70" fill="#fff" />
<rect x="625.00" y="44.80" width="35.10" height="102.00" fill="#000" />
<rect x="631.1" y="90.4" width="22.7" height="10.4" rx="1.8" fill="#fff"/>
<rect x="423.90" y="148.90" width="141.10" height="15.10" fill="#000" />
<rect x="430.00" y="153.80" width="26.00" height="5.20" fill="#fff" />
<rect x="463.80" y="153.80" width="20.20" height="5.20" fill="#fff" />
<rect x="505.00" y="153.80" width="55.40" height="5.20" fill="#fff" />
<rect x="482.2" y="150.60" width="24.4" height="11" rx="2" fill="#000"/>
<rect x="483.3" y="151.40" width="22.1" height="9.0" rx="1" fill="#fff"/>
<rect x="423.90" y="184.20" width="141.10" height="15.10" fill="#000" />
<rect x="430.00" y="189.10" width="26.00" height="5.20" fill="#fff" />
<rect x="463.80" y="189.10" width="20.20" height="5.20" fill="#fff" />
<rect x="505.00" y="189.10" width="55.40" height="5.20" fill="#fff" />
<rect x="482.2" y="185.90" width="24.4" height="11" rx="2" fill="#000"/>
<rect x="483.3" y="186.70" width="22.1" height="9.0" rx="1" fill="#fff"/>
<rect x="423.90" y="219.80" width="141.10" height="15.10" fill="#000" />
<rect x="430.00" y="224.70" width="26.00" height="5.20" fill="#fff" />
<rect x="463.80" y="224.70" width="20.20" height="5.20" fill="#fff" />
<rect x="505.00" y="224.70" width="55.40" height="5.20" fill="#fff" />
<rect x="482.2" y="221.50" width="24.4" height="11" rx="2" fill="#000"/>
<rect x="483.3" y="222.30" width="22.1" height="9.0" rx="1" fill="#fff"/>
<rect x="423.90" y="255.20" width="141.10" height="15.10" fill="#000" />
<rect x="430.00" y="260.10" width="26.00" height="5.20" fill="#fff" />
<rect x="463.80" y="260.10" width="20.20" height="5.20" fill="#fff" />
<rect x="505.00" y="260.10" width="55.40" height="5.20" fill="#fff" />
<rect x="482.2" y="256.90" width="24.4" height="11" rx="2" fill="#000"/>
<rect x="483.3" y="257.70" width="22.1" height="9.0" rx="1" fill="#fff"/>
<rect x="612.00" y="147.40" width="15.90" height="10.50" fill="#000" />
<rect x="613.00" y="152.00" width="13.00" height="1.00" fill="#fff" />
<rect x="617.00" y="148.60" width="1.00" height="8.40" fill="#fff" />
<rect x="622.00" y="148.60" width="1.00" height="8.40" fill="#fff" />
<rect x="626.00" y="148.60" width="1.00" height="8.40" fill="#fff" />
<rect x="624.00" y="149.00" width="1.00" height="2.00" fill="#fff" />
<rect x="640.00" y="146.00" width="31.00" height="12.00" fill="#fff" stroke="#000" stroke-width="2.0" rx="2.2"/>
<polygon points="640.00,148.80 636.63,150.99 628.01,151.35 627.99,151.85 636.57,152.79 640.00,155.20" fill="#fff" stroke="#000" stroke-width="2.0" stroke-linejoin="miter"/>
<rect x="638.90" y="149.80" width="2.70" height="4.40" fill="#fff" />
<rect x="605.40" y="166.60" width="20.00" height="5.20" fill="#fff" stroke="#000" stroke-width="1.0" rx="0"/>
<rect x="638.00" y="163.00" width="33.00" height="13.00" fill="#fff" stroke="#000" stroke-width="2.0" rx="2.2"/>
<polygon points="638.00,166.30 634.62,168.52 625.81,168.95 625.79,169.45 634.58,170.32 638.00,172.70" fill="#fff" stroke="#000" stroke-width="2.0" stroke-linejoin="miter"/>
<rect x="636.90" y="167.30" width="2.70" height="4.40" fill="#fff" />
<rect x="587.50" y="165.90" width="4.20" height="15.70" fill="#000" />
<rect x="588.60" y="167.90" width="2.00" height="1.20" fill="#fff" />
<rect x="588.60" y="172.40" width="2.00" height="1.20" fill="#fff" />
<rect x="588.60" y="177.20" width="2.00" height="1.20" fill="#fff" />
<rect x="593.40" y="165.90" width="5.80" height="11.30" fill="#000" />
<rect x="594.80" y="167.20" width="3.20" height="1.00" fill="#fff" />
<rect x="548.00" y="167.00" width="28.00" height="13.00" fill="#fff" stroke="#000" stroke-width="2.0" rx="2.2"/>
<polygon points="576.00,170.30 579.32,172.34 587.48,172.35 587.52,172.85 579.46,174.13 576.00,176.70" fill="#fff" stroke="#000" stroke-width="2.0" stroke-linejoin="miter"/>
<rect x="574.40" y="171.30" width="2.70" height="4.40" fill="#fff" />
<polyline points="596.3,176.5 598.5,182.5 603,186" fill="none" stroke="#000" stroke-width="2.2"/>
<rect x="602.30" y="182.90" width="24.70" height="12.30" fill="#fff" stroke="#000" stroke-width="1.3" rx="1.5"/>
<rect x="55.10" y="226.90" width="222.90" height="16.00" fill="#000" />
<rect x="63.70" y="232.00" width="89.20" height="4.90" fill="#fff" />
<rect x="179.90" y="232.00" width="89.30" height="4.90" fill="#fff" />
<rect x="155" y="228.9" width="23.3" height="10.9" rx="1.5" fill="#fff"/>
<rect x="47.10" y="264.90" width="11.90" height="14.70" fill="#000" />
<rect x="48.10" y="270.00" width="3.80" height="0.90" fill="#fff" />
<rect x="53.60" y="270.00" width="4.30" height="0.90" fill="#fff" />
<rect x="48.10" y="274.00" width="3.80" height="0.90" fill="#fff" />
<rect x="53.60" y="274.00" width="4.30" height="0.90" fill="#fff" />
<rect x="49.00" y="276.40" width="1.80" height="1.80" fill="#fff" />
<rect x="54.70" y="276.40" width="2.10" height="1.80" fill="#fff" />
<rect x="19.00" y="245.00" width="32.00" height="13.00" fill="#fff" stroke="#000" stroke-width="2.0" rx="2.2"/>
<polygon points="45.80,258.00 49.43,260.68 57.82,265.64 58.18,265.16 51.12,258.45 50.60,258.00" fill="#fff" stroke="#000" stroke-width="2.0" stroke-linejoin="miter"/>
<rect x="46.80" y="256.40" width="2.80" height="2.70" fill="#fff" />
<rect x="3.00" y="265.00" width="32.00" height="13.00" fill="#fff" stroke="#000" stroke-width="2.0" rx="2.2"/>
<polygon points="35.00,268.30 38.39,270.57 47.40,271.15 47.40,271.65 38.41,272.37 35.00,274.70" fill="#fff" stroke="#000" stroke-width="2.0" stroke-linejoin="miter"/>
<rect x="33.40" y="269.30" width="2.70" height="4.40" fill="#fff" />
<rect x="87.80" y="258.10" width="29.60" height="5.20" fill="#000" />
<rect x="87.80" y="309.80" width="29.60" height="5.20" fill="#000" />
<rect x="82.20" y="261.50" width="5.20" height="50.10" fill="#000" />
<rect x="118.00" y="263.70" width="5.20" height="45.70" fill="#000" />
<rect x="85.20" y="260.50" width="35.00" height="3.60" fill="#000" />
<rect x="85.20" y="309.00" width="35.00" height="3.60" fill="#000" />
<rect x="82.00" y="266.00" width="3.00" height="1.00" fill="#fff" />
<rect x="120.00" y="267.00" width="4.00" height="1.00" fill="#fff" />
<rect x="82.00" y="271.00" width="3.00" height="1.00" fill="#fff" />
<rect x="120.00" y="272.00" width="4.00" height="1.00" fill="#fff" />
<rect x="82.00" y="276.00" width="3.00" height="1.00" fill="#fff" />
<rect x="120.00" y="277.00" width="4.00" height="1.00" fill="#fff" />
<rect x="82.00" y="281.00" width="3.00" height="1.00" fill="#fff" />
<rect x="120.00" y="282.00" width="4.00" height="1.00" fill="#fff" />
<rect x="82.00" y="285.00" width="3.00" height="1.00" fill="#fff" />
<rect x="120.00" y="286.00" width="4.00" height="1.00" fill="#fff" />
<rect x="82.00" y="290.00" width="3.00" height="1.00" fill="#fff" />
<rect x="120.00" y="291.00" width="4.00" height="1.00" fill="#fff" />
<rect x="82.00" y="295.00" width="3.00" height="1.00" fill="#fff" />
<rect x="120.00" y="296.00" width="4.00" height="1.00" fill="#fff" />
<rect x="82.00" y="300.00" width="3.00" height="1.00" fill="#fff" />
<rect x="120.00" y="301.00" width="4.00" height="1.00" fill="#fff" />
<rect x="82.00" y="304.00" width="3.00" height="1.00" fill="#fff" />
<rect x="120.00" y="305.00" width="4.00" height="1.00" fill="#fff" />
<rect x="90.00" y="258.00" width="1.00" height="3.00" fill="#fff" />
<rect x="90.00" y="312.00" width="1.00" height="3.00" fill="#fff" />
<rect x="94.00" y="258.00" width="1.00" height="3.00" fill="#fff" />
<rect x="94.00" y="312.00" width="1.00" height="3.00" fill="#fff" />
<rect x="98.00" y="258.00" width="1.00" height="3.00" fill="#fff" />
<rect x="98.00" y="312.00" width="1.00" height="3.00" fill="#fff" />
<rect x="102.00" y="258.00" width="1.00" height="3.00" fill="#fff" />
<rect x="102.00" y="312.00" width="1.00" height="3.00" fill="#fff" />
<rect x="107.00" y="258.00" width="1.00" height="3.00" fill="#fff" />
<rect x="107.00" y="312.00" width="1.00" height="3.00" fill="#fff" />
<rect x="111.00" y="258.00" width="1.00" height="3.00" fill="#fff" />
<rect x="111.00" y="312.00" width="1.00" height="3.00" fill="#fff" />
<rect x="115.00" y="258.00" width="1.00" height="3.00" fill="#fff" />
<rect x="115.00" y="312.00" width="1.00" height="3.00" fill="#fff" />
<rect x="87.00" y="262.70" width="31.40" height="47.70" fill="#fff" />
<rect x="87.80" y="327.40" width="29.60" height="5.20" fill="#000" />
<rect x="87.80" y="379.40" width="29.60" height="5.20" fill="#000" />
<rect x="82.20" y="330.80" width="5.20" height="50.40" fill="#000" />
<rect x="118.00" y="333.00" width="5.20" height="46.00" fill="#000" />
<rect x="85.20" y="329.80" width="35.00" height="3.60" fill="#000" />
<rect x="85.20" y="378.60" width="35.00" height="3.60" fill="#000" />
<rect x="82.00" y="336.00" width="3.00" height="1.00" fill="#fff" />
<rect x="120.00" y="337.00" width="4.00" height="1.00" fill="#fff" />
<rect x="82.00" y="340.00" width="3.00" height="1.00" fill="#fff" />
<rect x="120.00" y="341.00" width="4.00" height="1.00" fill="#fff" />
<rect x="82.00" y="345.00" width="3.00" height="1.00" fill="#fff" />
<rect x="120.00" y="346.00" width="4.00" height="1.00" fill="#fff" />
<rect x="82.00" y="350.00" width="3.00" height="1.00" fill="#fff" />
<rect x="120.00" y="351.00" width="4.00" height="1.00" fill="#fff" />
<rect x="82.00" y="355.00" width="3.00" height="1.00" fill="#fff" />
<rect x="120.00" y="356.00" width="4.00" height="1.00" fill="#fff" />
<rect x="82.00" y="359.00" width="3.00" height="1.00" fill="#fff" />
<rect x="120.00" y="360.00" width="4.00" height="1.00" fill="#fff" />
<rect x="82.00" y="364.00" width="3.00" height="1.00" fill="#fff" />
<rect x="120.00" y="365.00" width="4.00" height="1.00" fill="#fff" />
<rect x="82.00" y="369.00" width="3.00" height="1.00" fill="#fff" />
<rect x="120.00" y="370.00" width="4.00" height="1.00" fill="#fff" />
<rect x="82.00" y="374.00" width="3.00" height="1.00" fill="#fff" />
<rect x="120.00" y="375.00" width="4.00" height="1.00" fill="#fff" />
<rect x="82.00" y="378.00" width="3.00" height="1.00" fill="#fff" />
<rect x="120.00" y="379.00" width="4.00" height="1.00" fill="#fff" />
<rect x="90.00" y="327.00" width="1.00" height="3.00" fill="#fff" />
<rect x="90.00" y="382.00" width="1.00" height="3.00" fill="#fff" />
<rect x="94.00" y="327.00" width="1.00" height="3.00" fill="#fff" />
<rect x="94.00" y="382.00" width="1.00" height="3.00" fill="#fff" />
<rect x="98.00" y="327.00" width="1.00" height="3.00" fill="#fff" />
<rect x="98.00" y="382.00" width="1.00" height="3.00" fill="#fff" />
<rect x="102.00" y="327.00" width="1.00" height="3.00" fill="#fff" />
<rect x="102.00" y="382.00" width="1.00" height="3.00" fill="#fff" />
<rect x="107.00" y="327.00" width="1.00" height="3.00" fill="#fff" />
<rect x="107.00" y="382.00" width="1.00" height="3.00" fill="#fff" />
<rect x="111.00" y="327.00" width="1.00" height="3.00" fill="#fff" />
<rect x="111.00" y="382.00" width="1.00" height="3.00" fill="#fff" />
<rect x="115.00" y="327.00" width="1.00" height="3.00" fill="#fff" />
<rect x="115.00" y="382.00" width="1.00" height="3.00" fill="#fff" />
<rect x="87.00" y="332.00" width="31.40" height="48.00" fill="#fff" />
<polygon points="139.00,261.00 164.20,261.00 164.20,262.50 166.20,262.50 166.20,264.50 168.20,264.50 168.20,310.70 166.20,310.70 166.20,312.70 164.20,312.70 164.20,314.20 139.00,314.20 139.00,312.70 136.00,312.70 136.00,310.70 134.00,310.70 134.00,264.50 136.00,264.50 136.00,262.50 139.00,262.50" fill="#000"/>
<rect x="167.20" y="268.00" width="1.00" height="1.00" fill="#fff" />
<rect x="134.00" y="268.00" width="1.00" height="1.00" fill="#fff" />
<rect x="167.20" y="278.00" width="1.00" height="1.00" fill="#fff" />
<rect x="134.00" y="278.00" width="1.00" height="1.00" fill="#fff" />
<rect x="167.20" y="287.00" width="1.00" height="1.00" fill="#fff" />
<rect x="134.00" y="287.00" width="1.00" height="1.00" fill="#fff" />
<rect x="167.20" y="296.00" width="1.00" height="1.00" fill="#fff" />
<rect x="134.00" y="296.00" width="1.00" height="1.00" fill="#fff" />
<rect x="167.20" y="305.00" width="1.00" height="1.00" fill="#fff" />
<rect x="134.00" y="305.00" width="1.00" height="1.00" fill="#fff" />
<rect x="145.00" y="261.00" width="1.00" height="1.20" fill="#fff" />
<rect x="145.00" y="313.00" width="1.00" height="1.20" fill="#fff" />
<rect x="155.00" y="261.00" width="1.00" height="1.20" fill="#fff" />
<rect x="155.00" y="313.00" width="1.00" height="1.20" fill="#fff" />
<rect x="162.00" y="261.00" width="1.00" height="1.20" fill="#fff" />
<rect x="162.00" y="313.00" width="1.00" height="1.20" fill="#fff" />
<polygon points="139.00,329.60 164.20,329.60 164.20,331.10 166.20,331.10 166.20,333.10 168.20,333.10 168.20,378.90 166.20,378.90 166.20,380.90 164.20,380.90 164.20,382.40 139.00,382.40 139.00,380.90 136.00,380.90 136.00,378.90 134.00,378.90 134.00,333.10 136.00,333.10 136.00,331.10 139.00,331.10" fill="#000"/>
<rect x="167.20" y="337.00" width="1.00" height="1.00" fill="#fff" />
<rect x="134.00" y="337.00" width="1.00" height="1.00" fill="#fff" />
<rect x="167.20" y="346.00" width="1.00" height="1.00" fill="#fff" />
<rect x="134.00" y="346.00" width="1.00" height="1.00" fill="#fff" />
<rect x="167.20" y="355.00" width="1.00" height="1.00" fill="#fff" />
<rect x="134.00" y="355.00" width="1.00" height="1.00" fill="#fff" />
<rect x="167.20" y="364.00" width="1.00" height="1.00" fill="#fff" />
<rect x="134.00" y="364.00" width="1.00" height="1.00" fill="#fff" />
<rect x="167.20" y="374.00" width="1.00" height="1.00" fill="#fff" />
<rect x="134.00" y="374.00" width="1.00" height="1.00" fill="#fff" />
<rect x="145.00" y="329.60" width="1.00" height="1.20" fill="#fff" />
<rect x="145.00" y="381.20" width="1.00" height="1.20" fill="#fff" />
<rect x="155.00" y="329.60" width="1.00" height="1.20" fill="#fff" />
<rect x="155.00" y="381.20" width="1.00" height="1.20" fill="#fff" />
<rect x="162.00" y="329.60" width="1.00" height="1.20" fill="#fff" />
<rect x="162.00" y="381.20" width="1.00" height="1.20" fill="#fff" />
<polyline points="86.6,256.2 80.6,260.6 80.6,316.6 76.8,321.4 80.6,326.2 80.6,382.0 84.6,386.4" fill="none" stroke="#000" stroke-width="1.0" shape-rendering="auto"/>
<rect x="96.00" y="290.90" width="14.00" height="59.30" fill="#fff" stroke="#000" stroke-width="1.9" rx="2.5"/>
<rect x="37.00" y="326.00" width="38.00" height="4.00" fill="#000" />
<rect x="36.00" y="315.00" width="40.00" height="13.00" fill="#fff" stroke="#000" stroke-width="2.0" rx="2.2"/>
<rect x="57.20" y="329.60" width="5.60" height="20.90" fill="#000" />
<rect x="59.00" y="331.00" width="3.00" height="1.00" fill="#fff" />
<rect x="59.00" y="336.00" width="3.00" height="1.00" fill="#fff" />
<rect x="59.00" y="341.00" width="3.00" height="1.00" fill="#fff" />
<rect x="59.00" y="346.00" width="3.00" height="3.00" fill="#fff" />
<rect x="60.00" y="347.00" width="1.00" height="1.00" fill="#000" />
<rect x="18.00" y="334.00" width="25.00" height="13.00" fill="#fff" stroke="#000" stroke-width="2.0" rx="2.2"/>
<polygon points="43.00,337.30 46.39,339.58 57.40,340.15 57.40,340.65 46.41,341.38 43.00,343.70" fill="#fff" stroke="#000" stroke-width="2.0" stroke-linejoin="miter"/>
<rect x="41.40" y="338.30" width="2.70" height="4.40" fill="#fff" />
<rect x="284.90" y="249.90" width="5.10" height="10.70" fill="#000" />
<rect x="291.40" y="249.90" width="5.40" height="10.70" fill="#000" />
<rect x="285.80" y="253.00" width="3.20" height="1.00" fill="#fff" />
<rect x="285.80" y="256.60" width="3.20" height="1.00" fill="#fff" />
<rect x="292.40" y="253.00" width="3.20" height="1.00" fill="#fff" />
<rect x="292.40" y="256.60" width="3.20" height="1.00" fill="#fff" />
<rect x="293.00" y="230.00" width="32.00" height="12.00" fill="#fff" stroke="#000" stroke-width="2.0" rx="2.2"/>
<polygon points="293.80,242.00 293.49,243.30 287.19,250.19 287.61,250.61 294.35,244.14 297.40,242.00" fill="#fff" stroke="#000" stroke-width="2.0" stroke-linejoin="miter"/>
<rect x="294.80" y="240.40" width="1.60" height="2.70" fill="#fff" />
<rect x="309.00" y="249.00" width="32.00" height="12.00" fill="#fff" stroke="#000" stroke-width="2.0" rx="2.2"/>
<polygon points="309.00,251.80 303.99,254.82 297.20,255.30 297.20,255.50 304.01,255.52 309.00,258.20" fill="#fff" stroke="#000" stroke-width="2.0" stroke-linejoin="miter"/>
<rect x="307.90" y="252.80" width="2.70" height="4.40" fill="#fff" />
<rect x="207.00" y="275.10" width="67.80" height="19.40" fill="#000" />
<rect x="209.10" y="277.00" width="2.30" height="3.00" fill="#fff" />
<rect x="209.10" y="289.20" width="2.30" height="3.80" fill="#fff" />
<rect x="213.80" y="277.00" width="2.30" height="3.00" fill="#fff" />
<rect x="213.80" y="289.20" width="2.30" height="3.80" fill="#fff" />
<rect x="218.50" y="277.00" width="2.30" height="3.00" fill="#fff" />
<rect x="218.50" y="289.20" width="2.30" height="3.80" fill="#fff" />
<rect x="223.20" y="277.00" width="2.30" height="3.00" fill="#fff" />
<rect x="223.20" y="289.20" width="2.30" height="3.80" fill="#fff" />
<rect x="256.10" y="277.00" width="2.30" height="3.00" fill="#fff" />
<rect x="256.10" y="289.20" width="2.30" height="3.80" fill="#fff" />
<rect x="260.80" y="277.00" width="2.30" height="3.00" fill="#fff" />
<rect x="260.80" y="289.20" width="2.30" height="3.80" fill="#fff" />
<rect x="265.50" y="277.00" width="2.30" height="3.00" fill="#fff" />
<rect x="265.50" y="289.20" width="2.30" height="3.80" fill="#fff" />
<rect x="270.20" y="277.00" width="2.30" height="3.00" fill="#fff" />
<rect x="270.20" y="289.20" width="2.30" height="3.80" fill="#fff" />
<rect x="210.70" y="283.00" width="17.80" height="4.00" fill="#fff" />
<rect x="253.00" y="283.00" width="15.20" height="4.00" fill="#fff" />
<polygon points="274.8,283 272.3,285 274.8,287" fill="#fff"/>
<rect x="229.60" y="291.60" width="2.40" height="1.00" fill="#fff" />
<rect x="234.20" y="291.60" width="2.40" height="1.00" fill="#fff" />
<rect x="238.80" y="291.60" width="2.40" height="1.00" fill="#fff" />
<rect x="243.40" y="291.60" width="2.40" height="1.00" fill="#fff" />
<rect x="248.00" y="291.60" width="2.40" height="1.00" fill="#fff" />
<rect x="229.60" y="278.40" width="22.60" height="11.40" fill="#fff" />
<rect x="391.60" y="283.20" width="15.70" height="4.60" fill="#000" />
<rect x="397.00" y="284.60" width="1.20" height="1.80" fill="#fff" />
<rect x="401.20" y="284.60" width="1.20" height="1.80" fill="#fff" />
<rect x="403.80" y="284.40" width="2.40" height="2.20" fill="#fff" />
<rect x="404.60" y="285.10" width="0.80" height="0.80" fill="#000" />
<rect x="353.00" y="280.00" width="26.00" height="12.00" fill="#fff" stroke="#000" stroke-width="2.0" rx="2.2"/>
<polygon points="379.00,282.80 382.35,284.94 391.79,285.15 391.81,285.65 382.44,286.74 379.00,289.20" fill="#fff" stroke="#000" stroke-width="2.0" stroke-linejoin="miter"/>
<rect x="377.40" y="283.80" width="2.70" height="4.40" fill="#fff" />
<rect x="364.10" y="304.10" width="95.90" height="9.70" fill="#000" />
<rect x="366.00" y="305.30" width="1.15" height="7.30" fill="#fff" />
<rect x="370.00" y="305.30" width="1.15" height="7.30" fill="#fff" />
<rect x="375.00" y="305.30" width="1.15" height="7.30" fill="#fff" />
<rect x="379.00" y="305.30" width="1.15" height="7.30" fill="#fff" />
<rect x="384.00" y="305.30" width="1.15" height="7.30" fill="#fff" />
<rect x="389.00" y="305.30" width="1.15" height="7.30" fill="#fff" />
<rect x="393.00" y="305.30" width="1.15" height="7.30" fill="#fff" />
<rect x="402.00" y="305.30" width="1.15" height="7.30" fill="#fff" />
<rect x="407.00" y="305.30" width="1.15" height="7.30" fill="#fff" />
<rect x="412.00" y="305.30" width="1.15" height="7.30" fill="#fff" />
<rect x="416.00" y="305.30" width="1.15" height="7.30" fill="#fff" />
<rect x="421.00" y="305.30" width="1.15" height="7.30" fill="#fff" />
<rect x="426.00" y="305.30" width="1.15" height="7.30" fill="#fff" />
<rect x="430.00" y="305.30" width="1.15" height="7.30" fill="#fff" />
<rect x="435.00" y="305.30" width="1.15" height="7.30" fill="#fff" />
<rect x="440.00" y="305.30" width="1.15" height="7.30" fill="#fff" />
<rect x="444.00" y="305.30" width="1.15" height="7.30" fill="#fff" />
<rect x="449.00" y="305.30" width="1.15" height="7.30" fill="#fff" />
<rect x="453.00" y="305.30" width="1.15" height="7.30" fill="#fff" />
<rect x="458.00" y="305.30" width="1.15" height="7.30" fill="#fff" />
<rect x="454.00" y="305.30" width="5.00" height="1.00" fill="#fff" />
<rect x="456.00" y="306.30" width="1.00" height="1.40" fill="#fff" />
<rect x="364.10" y="321.30" width="95.90" height="9.70" fill="#000" />
<rect x="366.00" y="322.50" width="1.15" height="7.30" fill="#fff" />
<rect x="370.00" y="322.50" width="1.15" height="7.30" fill="#fff" />
<rect x="375.00" y="322.50" width="1.15" height="7.30" fill="#fff" />
<rect x="379.00" y="322.50" width="1.15" height="7.30" fill="#fff" />
<rect x="384.00" y="322.50" width="1.15" height="7.30" fill="#fff" />
<rect x="389.00" y="322.50" width="1.15" height="7.30" fill="#fff" />
<rect x="393.00" y="322.50" width="1.15" height="7.30" fill="#fff" />
<rect x="402.00" y="322.50" width="1.15" height="7.30" fill="#fff" />
<rect x="407.00" y="322.50" width="1.15" height="7.30" fill="#fff" />
<rect x="412.00" y="322.50" width="1.15" height="7.30" fill="#fff" />
<rect x="416.00" y="322.50" width="1.15" height="7.30" fill="#fff" />
<rect x="421.00" y="322.50" width="1.15" height="7.30" fill="#fff" />
<rect x="426.00" y="322.50" width="1.15" height="7.30" fill="#fff" />
<rect x="430.00" y="322.50" width="1.15" height="7.30" fill="#fff" />
<rect x="435.00" y="322.50" width="1.15" height="7.30" fill="#fff" />
<rect x="440.00" y="322.50" width="1.15" height="7.30" fill="#fff" />
<rect x="444.00" y="322.50" width="1.15" height="7.30" fill="#fff" />
<rect x="449.00" y="322.50" width="1.15" height="7.30" fill="#fff" />
<rect x="453.00" y="322.50" width="1.15" height="7.30" fill="#fff" />
<rect x="458.00" y="322.50" width="1.15" height="7.30" fill="#fff" />
<rect x="454.00" y="322.50" width="5.00" height="1.00" fill="#fff" />
<rect x="456.00" y="323.50" width="1.00" height="1.40" fill="#fff" />
<rect x="464.90" y="304.20" width="63.30" height="9.60" fill="#000" />
<rect x="466.00" y="305.40" width="1.15" height="7.20" fill="#fff" />
<rect x="475.00" y="305.40" width="1.15" height="7.20" fill="#fff" />
<rect x="480.00" y="305.40" width="1.15" height="7.20" fill="#fff" />
<rect x="484.00" y="305.40" width="1.15" height="7.20" fill="#fff" />
<rect x="489.00" y="305.40" width="1.15" height="7.20" fill="#fff" />
<rect x="494.00" y="305.40" width="1.15" height="7.20" fill="#fff" />
<rect x="498.00" y="305.40" width="1.15" height="7.20" fill="#fff" />
<rect x="503.00" y="305.40" width="1.15" height="7.20" fill="#fff" />
<rect x="508.00" y="305.40" width="1.15" height="7.20" fill="#fff" />
<rect x="512.00" y="305.40" width="1.15" height="7.20" fill="#fff" />
<rect x="517.00" y="305.40" width="1.15" height="7.20" fill="#fff" />
<rect x="522.00" y="305.40" width="1.00" height="7.20" fill="#fff" />
<rect x="523.00" y="305.40" width="3.00" height="1.00" fill="#fff" />
<rect x="525.40" y="306.40" width="1.00" height="6.20" fill="#fff" />
<rect x="464.90" y="321.30" width="81.30" height="9.60" fill="#000" />
<rect x="466.00" y="322.50" width="1.15" height="7.20" fill="#fff" />
<rect x="471.00" y="322.50" width="1.15" height="7.20" fill="#fff" />
<rect x="476.00" y="322.50" width="1.15" height="7.20" fill="#fff" />
<rect x="480.00" y="322.50" width="1.15" height="7.20" fill="#fff" />
<rect x="485.00" y="322.50" width="1.15" height="7.20" fill="#fff" />
<rect x="489.00" y="322.50" width="1.15" height="7.20" fill="#fff" />
<rect x="494.00" y="322.50" width="1.15" height="7.20" fill="#fff" />
<rect x="499.00" y="322.50" width="1.15" height="7.20" fill="#fff" />
<rect x="503.00" y="322.50" width="1.15" height="7.20" fill="#fff" />
<rect x="508.00" y="322.50" width="1.15" height="7.20" fill="#fff" />
<rect x="512.00" y="322.50" width="1.15" height="7.20" fill="#fff" />
<rect x="517.00" y="322.50" width="1.15" height="7.20" fill="#fff" />
<rect x="522.00" y="322.50" width="1.15" height="7.20" fill="#fff" />
<rect x="526.00" y="322.50" width="1.15" height="7.20" fill="#fff" />
<rect x="531.00" y="322.50" width="1.15" height="7.20" fill="#fff" />
<rect x="536.00" y="322.50" width="1.15" height="7.20" fill="#fff" />
<rect x="540.00" y="322.50" width="1.15" height="7.20" fill="#fff" />
<rect x="542.00" y="323.00" width="2.00" height="2.00" fill="#fff" />
<rect x="325.00" y="302.00" width="26.00" height="12.00" fill="#fff" stroke="#000" stroke-width="2.0" rx="2.2"/>
<polygon points="351.00,304.80 354.44,307.26 364.21,308.35 364.19,308.85 354.36,309.05 351.00,311.20" fill="#fff" stroke="#000" stroke-width="2.0" stroke-linejoin="miter"/>
<rect x="349.40" y="305.80" width="2.70" height="4.40" fill="#fff" />
<rect x="325.00" y="320.00" width="26.00" height="12.00" fill="#fff" stroke="#000" stroke-width="2.0" rx="2.2"/>
<polygon points="351.00,322.80 354.40,325.10 364.20,325.75 364.20,326.25 354.40,326.90 351.00,329.20" fill="#fff" stroke="#000" stroke-width="2.0" stroke-linejoin="miter"/>
<rect x="349.40" y="323.80" width="2.70" height="4.40" fill="#fff" />
<rect x="492.00" y="277.00" width="26.00" height="12.00" fill="#fff" stroke="#000" stroke-width="2.0" rx="2.2"/>
<polygon points="502.20,289.00 503.72,292.35 503.75,304.39 504.25,304.41 505.52,292.44 507.40,289.00" fill="#fff" stroke="#000" stroke-width="2.0" stroke-linejoin="miter"/>
<rect x="503.20" y="287.40" width="3.20" height="2.70" fill="#fff" />
<rect x="536.90" y="290.00" width="24.90" height="10.50" fill="#000" />
<rect x="538.00" y="295.00" width="19.00" height="1.00" fill="#fff" />
<rect x="538.00" y="292.00" width="1.00" height="7.00" fill="#fff" />
<rect x="547.00" y="292.00" width="1.00" height="7.00" fill="#fff" />
<rect x="552.00" y="292.00" width="1.00" height="7.00" fill="#fff" />
<rect x="556.00" y="292.00" width="1.00" height="7.00" fill="#fff" />
<rect x="558.00" y="292.00" width="2.00" height="2.00" fill="#fff" />
<rect x="536.90" y="304.00" width="24.90" height="9.80" fill="#000" />
<rect x="538.00" y="305.40" width="1.00" height="7.10" fill="#fff" />
<rect x="547.00" y="305.40" width="1.00" height="7.10" fill="#fff" />
<rect x="552.00" y="305.40" width="1.00" height="7.10" fill="#fff" />
<rect x="556.00" y="305.40" width="1.00" height="7.10" fill="#fff" />
<rect x="558.00" y="306.00" width="2.00" height="2.00" fill="#fff" />
<rect x="568.00" y="278.00" width="26.00" height="12.00" fill="#fff" stroke="#000" stroke-width="2.0" rx="2.2"/>
<polygon points="569.20,290.00 569.25,290.77 562.24,295.55 562.56,296.05 569.89,291.79 574.00,290.00" fill="#fff" stroke="#000" stroke-width="2.0" stroke-linejoin="miter"/>
<rect x="570.20" y="288.40" width="2.80" height="2.70" fill="#fff" />
<rect x="575.00" y="303.00" width="27.00" height="12.00" fill="#fff" stroke="#000" stroke-width="2.0" rx="2.2"/>
<polygon points="575.00,305.80 571.65,307.94 562.01,308.15 561.99,308.65 571.56,309.74 575.00,312.20" fill="#fff" stroke="#000" stroke-width="2.0" stroke-linejoin="miter"/>
<rect x="573.90" y="306.80" width="2.70" height="4.40" fill="#fff" />
<rect x="364.00" y="344.00" width="222.00" height="13.00" fill="#000" />
<rect x="365.00" y="345.00" width="5.00" height="2.00" fill="#fff" />
<rect x="365.00" y="348.00" width="5.00" height="4.00" fill="#fff" />
<rect x="365.00" y="353.00" width="5.00" height="3.00" fill="#fff" />
<rect x="580.00" y="345.00" width="5.00" height="2.00" fill="#fff" />
<rect x="580.00" y="348.00" width="5.00" height="4.00" fill="#fff" />
<rect x="580.00" y="353.00" width="5.00" height="3.00" fill="#fff" />
<rect x="372.60" y="345.00" width="8.40" height="11.00" fill="#fff" />
<rect x="374.00" y="347.00" width="7.00" height="6.00" fill="#000" />
<rect x="375.30" y="348.30" width="4.40" height="2.70" fill="#fff" />
<rect x="375.30" y="351.00" width="1.70" height="2.00" fill="#fff" />
<rect x="372.60" y="353.60" width="5.40" height="2.40" fill="#000" />
<rect x="381.00" y="345.00" width="3.00" height="2.00" fill="#fff" />
<rect x="569.00" y="345.00" width="8.40" height="11.00" fill="#fff" />
<rect x="569.60" y="347.00" width="7.00" height="6.00" fill="#000" />
<rect x="570.80" y="348.30" width="4.40" height="2.70" fill="#fff" />
<rect x="573.50" y="351.00" width="1.70" height="2.00" fill="#fff" />
<rect x="572.60" y="353.60" width="4.80" height="2.40" fill="#000" />
<rect x="567.00" y="345.00" width="2.00" height="2.00" fill="#fff" />
<rect x="567.00" y="355.00" width="2.00" height="1.00" fill="#fff" />
<rect x="384.00" y="345.00" width="183.00" height="1.00" fill="#b0b0b0" />
<rect x="387.00" y="348.00" width="1.00" height="3.00" fill="#fff" />
<rect x="389.00" y="348.00" width="1.00" height="3.00" fill="#fff" />
<rect x="391.00" y="348.00" width="1.00" height="3.00" fill="#fff" />
<rect x="393.00" y="348.00" width="1.00" height="3.00" fill="#fff" />
<rect x="395.00" y="348.00" width="1.00" height="3.00" fill="#fff" />
<rect x="404.00" y="348.00" width="1.00" height="3.00" fill="#fff" />
<rect x="406.00" y="348.00" width="1.00" height="3.00" fill="#fff" />
<rect x="408.00" y="348.00" width="1.00" height="3.00" fill="#fff" />
<rect x="410.00" y="348.00" width="1.00" height="3.00" fill="#fff" />
<rect x="419.00" y="348.00" width="1.00" height="3.00" fill="#fff" />
<rect x="421.00" y="348.00" width="1.00" height="3.00" fill="#fff" />
<rect x="423.00" y="348.00" width="1.00" height="3.00" fill="#fff" />
<rect x="432.00" y="348.00" width="1.00" height="3.00" fill="#fff" />
<rect x="434.00" y="348.00" width="1.00" height="3.00" fill="#fff" />
<rect x="436.00" y="348.00" width="1.00" height="3.00" fill="#fff" />
<rect x="438.00" y="348.00" width="1.00" height="3.00" fill="#fff" />
<rect x="441.00" y="348.00" width="1.00" height="3.00" fill="#fff" />
<rect x="447.00" y="348.00" width="1.00" height="3.00" fill="#fff" />
<rect x="450.00" y="348.00" width="1.00" height="3.00" fill="#fff" />
<rect x="452.00" y="348.00" width="1.00" height="3.00" fill="#fff" />
<rect x="455.00" y="348.00" width="1.00" height="3.00" fill="#fff" />
<rect x="457.00" y="348.00" width="1.00" height="3.00" fill="#fff" />
<rect x="459.00" y="348.00" width="1.00" height="3.00" fill="#fff" />
<rect x="461.00" y="348.00" width="1.00" height="3.00" fill="#fff" />
<rect x="462.00" y="348.00" width="1.00" height="3.00" fill="#fff" />
<rect x="465.00" y="348.00" width="1.00" height="3.00" fill="#fff" />
<rect x="467.00" y="348.00" width="1.00" height="3.00" fill="#fff" />
<rect x="484.00" y="348.00" width="1.00" height="3.00" fill="#fff" />
<rect x="486.00" y="348.00" width="1.00" height="3.00" fill="#fff" />
<rect x="488.00" y="348.00" width="1.00" height="3.00" fill="#fff" />
<rect x="490.00" y="348.00" width="1.00" height="3.00" fill="#fff" />
<rect x="504.00" y="348.00" width="1.00" height="3.00" fill="#fff" />
<rect x="506.00" y="348.00" width="1.00" height="3.00" fill="#fff" />
<rect x="508.00" y="348.00" width="1.00" height="3.00" fill="#fff" />
<rect x="510.00" y="348.00" width="1.00" height="3.00" fill="#fff" />
<rect x="519.00" y="348.00" width="1.00" height="3.00" fill="#fff" />
<rect x="521.00" y="348.00" width="1.00" height="3.00" fill="#fff" />
<rect x="523.00" y="348.00" width="1.00" height="3.00" fill="#fff" />
<rect x="535.00" y="348.00" width="1.00" height="3.00" fill="#fff" />
<rect x="537.00" y="348.00" width="1.00" height="3.00" fill="#fff" />
<rect x="539.00" y="348.00" width="1.00" height="3.00" fill="#fff" />
<rect x="545.00" y="348.00" width="1.00" height="3.00" fill="#fff" />
<rect x="547.00" y="348.00" width="1.00" height="3.00" fill="#fff" />
<rect x="549.00" y="348.00" width="1.00" height="3.00" fill="#fff" />
<rect x="551.00" y="348.00" width="1.00" height="3.00" fill="#fff" />
<rect x="553.00" y="348.00" width="1.00" height="3.00" fill="#fff" />
<rect x="556.00" y="348.00" width="1.00" height="3.00" fill="#fff" />
<rect x="560.00" y="348.00" width="1.00" height="3.00" fill="#fff" />
<rect x="562.00" y="348.00" width="1.00" height="3.00" fill="#fff" />
<rect x="564.00" y="348.00" width="1.00" height="3.00" fill="#fff" />
<rect x="389.00" y="345.00" width="1.00" height="1.00" fill="#000" />
<rect x="391.00" y="345.00" width="1.00" height="1.00" fill="#000" />
<rect x="406.00" y="345.00" width="1.00" height="1.00" fill="#000" />
<rect x="408.00" y="345.00" width="1.00" height="1.00" fill="#000" />
<rect x="434.00" y="345.00" width="1.00" height="1.00" fill="#000" />
<rect x="436.00" y="345.00" width="1.00" height="1.00" fill="#000" />
<rect x="456.00" y="345.00" width="1.00" height="1.00" fill="#000" />
<rect x="458.00" y="345.00" width="1.00" height="1.00" fill="#000" />
<rect x="486.00" y="345.00" width="1.00" height="1.00" fill="#000" />
<rect x="488.00" y="345.00" width="1.00" height="1.00" fill="#000" />
<rect x="505.00" y="345.00" width="1.00" height="1.00" fill="#000" />
<rect x="507.00" y="345.00" width="1.00" height="1.00" fill="#000" />
<rect x="548.00" y="345.00" width="1.00" height="1.00" fill="#000" />
<rect x="550.00" y="345.00" width="1.00" height="1.00" fill="#000" />
<rect x="561.00" y="345.00" width="1.00" height="1.00" fill="#000" />
<rect x="563.00" y="345.00" width="1.00" height="1.00" fill="#000" />
<rect x="471.00" y="346.00" width="8.00" height="4.00" fill="#fff" />
<rect x="364.00" y="358.00" width="222.00" height="13.00" fill="#000" />
<rect x="365.00" y="359.00" width="5.00" height="2.00" fill="#fff" />
<rect x="365.00" y="362.00" width="5.00" height="4.00" fill="#fff" />
<rect x="365.00" y="367.00" width="5.00" height="3.00" fill="#fff" />
<rect x="580.00" y="359.00" width="5.00" height="2.00" fill="#fff" />
<rect x="580.00" y="362.00" width="5.00" height="4.00" fill="#fff" />
<rect x="580.00" y="367.00" width="5.00" height="3.00" fill="#fff" />
<rect x="372.60" y="359.00" width="8.40" height="11.00" fill="#fff" />
<rect x="374.00" y="361.00" width="7.00" height="6.00" fill="#000" />
<rect x="375.30" y="362.30" width="4.40" height="2.70" fill="#fff" />
<rect x="375.30" y="365.00" width="1.70" height="2.00" fill="#fff" />
<rect x="372.60" y="367.60" width="5.40" height="2.40" fill="#000" />
<rect x="381.00" y="359.00" width="3.00" height="2.00" fill="#fff" />
<rect x="569.00" y="359.00" width="8.40" height="11.00" fill="#fff" />
<rect x="569.60" y="361.00" width="7.00" height="6.00" fill="#000" />
<rect x="570.80" y="362.30" width="4.40" height="2.70" fill="#fff" />
<rect x="573.50" y="365.00" width="1.70" height="2.00" fill="#fff" />
<rect x="572.60" y="367.60" width="4.80" height="2.40" fill="#000" />
<rect x="567.00" y="359.00" width="2.00" height="2.00" fill="#fff" />
<rect x="567.00" y="369.00" width="2.00" height="1.00" fill="#fff" />
<rect x="384.00" y="359.00" width="183.00" height="1.00" fill="#b0b0b0" />
<rect x="383.00" y="369.00" width="184.00" height="1.00" fill="#fff" />
<rect x="387.00" y="362.00" width="1.00" height="3.00" fill="#fff" />
<rect x="389.00" y="362.00" width="1.00" height="3.00" fill="#fff" />
<rect x="391.00" y="362.00" width="1.00" height="3.00" fill="#fff" />
<rect x="393.00" y="362.00" width="1.00" height="3.00" fill="#fff" />
<rect x="395.00" y="362.00" width="1.00" height="3.00" fill="#fff" />
<rect x="404.00" y="362.00" width="1.00" height="3.00" fill="#fff" />
<rect x="406.00" y="362.00" width="1.00" height="3.00" fill="#fff" />
<rect x="408.00" y="362.00" width="1.00" height="3.00" fill="#fff" />
<rect x="410.00" y="362.00" width="1.00" height="3.00" fill="#fff" />
<rect x="419.00" y="362.00" width="1.00" height="3.00" fill="#fff" />
<rect x="421.00" y="362.00" width="1.00" height="3.00" fill="#fff" />
<rect x="423.00" y="362.00" width="1.00" height="3.00" fill="#fff" />
<rect x="432.00" y="362.00" width="1.00" height="3.00" fill="#fff" />
<rect x="434.00" y="362.00" width="1.00" height="3.00" fill="#fff" />
<rect x="436.00" y="362.00" width="1.00" height="3.00" fill="#fff" />
<rect x="438.00" y="362.00" width="1.00" height="3.00" fill="#fff" />
<rect x="441.00" y="362.00" width="1.00" height="3.00" fill="#fff" />
<rect x="447.00" y="362.00" width="1.00" height="3.00" fill="#fff" />
<rect x="450.00" y="362.00" width="1.00" height="3.00" fill="#fff" />
<rect x="452.00" y="362.00" width="1.00" height="3.00" fill="#fff" />
<rect x="455.00" y="362.00" width="1.00" height="3.00" fill="#fff" />
<rect x="457.00" y="362.00" width="1.00" height="3.00" fill="#fff" />
<rect x="459.00" y="362.00" width="1.00" height="3.00" fill="#fff" />
<rect x="461.00" y="362.00" width="1.00" height="3.00" fill="#fff" />
<rect x="462.00" y="362.00" width="1.00" height="3.00" fill="#fff" />
<rect x="465.00" y="362.00" width="1.00" height="3.00" fill="#fff" />
<rect x="467.00" y="362.00" width="1.00" height="3.00" fill="#fff" />
<rect x="484.00" y="362.00" width="1.00" height="3.00" fill="#fff" />
<rect x="486.00" y="362.00" width="1.00" height="3.00" fill="#fff" />
<rect x="488.00" y="362.00" width="1.00" height="3.00" fill="#fff" />
<rect x="490.00" y="362.00" width="1.00" height="3.00" fill="#fff" />
<rect x="504.00" y="362.00" width="1.00" height="3.00" fill="#fff" />
<rect x="506.00" y="362.00" width="1.00" height="3.00" fill="#fff" />
<rect x="508.00" y="362.00" width="1.00" height="3.00" fill="#fff" />
<rect x="510.00" y="362.00" width="1.00" height="3.00" fill="#fff" />
<rect x="519.00" y="362.00" width="1.00" height="3.00" fill="#fff" />
<rect x="521.00" y="362.00" width="1.00" height="3.00" fill="#fff" />
<rect x="523.00" y="362.00" width="1.00" height="3.00" fill="#fff" />
<rect x="535.00" y="362.00" width="1.00" height="3.00" fill="#fff" />
<rect x="537.00" y="362.00" width="1.00" height="3.00" fill="#fff" />
<rect x="539.00" y="362.00" width="1.00" height="3.00" fill="#fff" />
<rect x="545.00" y="362.00" width="1.00" height="3.00" fill="#fff" />
<rect x="547.00" y="362.00" width="1.00" height="3.00" fill="#fff" />
<rect x="549.00" y="362.00" width="1.00" height="3.00" fill="#fff" />
<rect x="551.00" y="362.00" width="1.00" height="3.00" fill="#fff" />
<rect x="553.00" y="362.00" width="1.00" height="3.00" fill="#fff" />
<rect x="556.00" y="362.00" width="1.00" height="3.00" fill="#fff" />
<rect x="560.00" y="362.00" width="1.00" height="3.00" fill="#fff" />
<rect x="562.00" y="362.00" width="1.00" height="3.00" fill="#fff" />
<rect x="564.00" y="362.00" width="1.00" height="3.00" fill="#fff" />
<rect x="389.00" y="359.00" width="1.00" height="1.00" fill="#000" />
<rect x="391.00" y="359.00" width="1.00" height="1.00" fill="#000" />
<rect x="406.00" y="359.00" width="1.00" height="1.00" fill="#000" />
<rect x="408.00" y="359.00" width="1.00" height="1.00" fill="#000" />
<rect x="434.00" y="359.00" width="1.00" height="1.00" fill="#000" />
<rect x="436.00" y="359.00" width="1.00" height="1.00" fill="#000" />
<rect x="456.00" y="359.00" width="1.00" height="1.00" fill="#000" />
<rect x="458.00" y="359.00" width="1.00" height="1.00" fill="#000" />
<rect x="486.00" y="359.00" width="1.00" height="1.00" fill="#000" />
<rect x="488.00" y="359.00" width="1.00" height="1.00" fill="#000" />
<rect x="505.00" y="359.00" width="1.00" height="1.00" fill="#000" />
<rect x="507.00" y="359.00" width="1.00" height="1.00" fill="#000" />
<rect x="548.00" y="359.00" width="1.00" height="1.00" fill="#000" />
<rect x="550.00" y="359.00" width="1.00" height="1.00" fill="#000" />
<rect x="561.00" y="359.00" width="1.00" height="1.00" fill="#000" />
<rect x="563.00" y="359.00" width="1.00" height="1.00" fill="#000" />
<rect x="471.00" y="365.00" width="8.00" height="4.00" fill="#fff" />
<rect x="364.00" y="372.00" width="222.00" height="12.00" fill="#000" />
<rect x="365.00" y="373.00" width="5.00" height="2.00" fill="#fff" />
<rect x="365.00" y="376.00" width="5.00" height="4.00" fill="#fff" />
<rect x="365.00" y="381.00" width="5.00" height="2.00" fill="#fff" />
<rect x="580.00" y="373.00" width="5.00" height="2.00" fill="#fff" />
<rect x="580.00" y="376.00" width="5.00" height="4.00" fill="#fff" />
<rect x="580.00" y="381.00" width="5.00" height="2.00" fill="#fff" />
<rect x="372.60" y="373.00" width="8.40" height="10.00" fill="#fff" />
<rect x="374.00" y="375.00" width="7.00" height="6.00" fill="#000" />
<rect x="375.30" y="376.30" width="4.40" height="2.70" fill="#fff" />
<rect x="375.30" y="379.00" width="1.70" height="2.00" fill="#fff" />
<rect x="372.60" y="381.60" width="5.40" height="1.40" fill="#000" />
<rect x="381.00" y="373.00" width="3.00" height="2.00" fill="#fff" />
<rect x="569.00" y="373.00" width="8.40" height="10.00" fill="#fff" />
<rect x="569.60" y="375.00" width="7.00" height="6.00" fill="#000" />
<rect x="570.80" y="376.30" width="4.40" height="2.70" fill="#fff" />
<rect x="573.50" y="379.00" width="1.70" height="2.00" fill="#fff" />
<rect x="572.60" y="381.60" width="4.80" height="1.40" fill="#000" />
<rect x="567.00" y="373.00" width="2.00" height="2.00" fill="#fff" />
<rect x="567.00" y="382.00" width="2.00" height="1.00" fill="#fff" />
<rect x="384.00" y="373.00" width="183.00" height="1.00" fill="#b0b0b0" />
<rect x="387.00" y="376.00" width="1.00" height="3.00" fill="#fff" />
<rect x="389.00" y="376.00" width="1.00" height="3.00" fill="#fff" />
<rect x="391.00" y="376.00" width="1.00" height="3.00" fill="#fff" />
<rect x="393.00" y="376.00" width="1.00" height="3.00" fill="#fff" />
<rect x="395.00" y="376.00" width="1.00" height="3.00" fill="#fff" />
<rect x="404.00" y="376.00" width="1.00" height="3.00" fill="#fff" />
<rect x="406.00" y="376.00" width="1.00" height="3.00" fill="#fff" />
<rect x="408.00" y="376.00" width="1.00" height="3.00" fill="#fff" />
<rect x="410.00" y="376.00" width="1.00" height="3.00" fill="#fff" />
<rect x="419.00" y="376.00" width="1.00" height="3.00" fill="#fff" />
<rect x="421.00" y="376.00" width="1.00" height="3.00" fill="#fff" />
<rect x="423.00" y="376.00" width="1.00" height="3.00" fill="#fff" />
<rect x="432.00" y="376.00" width="1.00" height="3.00" fill="#fff" />
<rect x="434.00" y="376.00" width="1.00" height="3.00" fill="#fff" />
<rect x="436.00" y="376.00" width="1.00" height="3.00" fill="#fff" />
<rect x="438.00" y="376.00" width="1.00" height="3.00" fill="#fff" />
<rect x="441.00" y="376.00" width="1.00" height="3.00" fill="#fff" />
<rect x="447.00" y="376.00" width="1.00" height="3.00" fill="#fff" />
<rect x="450.00" y="376.00" width="1.00" height="3.00" fill="#fff" />
<rect x="452.00" y="376.00" width="1.00" height="3.00" fill="#fff" />
<rect x="455.00" y="376.00" width="1.00" height="3.00" fill="#fff" />
<rect x="457.00" y="376.00" width="1.00" height="3.00" fill="#fff" />
<rect x="459.00" y="376.00" width="1.00" height="3.00" fill="#fff" />
<rect x="461.00" y="376.00" width="1.00" height="3.00" fill="#fff" />
<rect x="462.00" y="376.00" width="1.00" height="3.00" fill="#fff" />
<rect x="465.00" y="376.00" width="1.00" height="3.00" fill="#fff" />
<rect x="467.00" y="376.00" width="1.00" height="3.00" fill="#fff" />
<rect x="484.00" y="376.00" width="1.00" height="3.00" fill="#fff" />
<rect x="486.00" y="376.00" width="1.00" height="3.00" fill="#fff" />
<rect x="488.00" y="376.00" width="1.00" height="3.00" fill="#fff" />
<rect x="490.00" y="376.00" width="1.00" height="3.00" fill="#fff" />
<rect x="504.00" y="376.00" width="1.00" height="3.00" fill="#fff" />
<rect x="506.00" y="376.00" width="1.00" height="3.00" fill="#fff" />
<rect x="508.00" y="376.00" width="1.00" height="3.00" fill="#fff" />
<rect x="510.00" y="376.00" width="1.00" height="3.00" fill="#fff" />
<rect x="519.00" y="376.00" width="1.00" height="3.00" fill="#fff" />
<rect x="521.00" y="376.00" width="1.00" height="3.00" fill="#fff" />
<rect x="523.00" y="376.00" width="1.00" height="3.00" fill="#fff" />
<rect x="535.00" y="376.00" width="1.00" height="3.00" fill="#fff" />
<rect x="537.00" y="376.00" width="1.00" height="3.00" fill="#fff" />
<rect x="539.00" y="376.00" width="1.00" height="3.00" fill="#fff" />
<rect x="545.00" y="376.00" width="1.00" height="3.00" fill="#fff" />
<rect x="547.00" y="376.00" width="1.00" height="3.00" fill="#fff" />
<rect x="549.00" y="376.00" width="1.00" height="3.00" fill="#fff" />
<rect x="551.00" y="376.00" width="1.00" height="3.00" fill="#fff" />
<rect x="553.00" y="376.00" width="1.00" height="3.00" fill="#fff" />
<rect x="556.00" y="376.00" width="1.00" height="3.00" fill="#fff" />
<rect x="560.00" y="376.00" width="1.00" height="3.00" fill="#fff" />
<rect x="562.00" y="376.00" width="1.00" height="3.00" fill="#fff" />
<rect x="564.00" y="376.00" width="1.00" height="3.00" fill="#fff" />
<rect x="389.00" y="373.00" width="1.00" height="1.00" fill="#000" />
<rect x="391.00" y="373.00" width="1.00" height="1.00" fill="#000" />
<rect x="406.00" y="373.00" width="1.00" height="1.00" fill="#000" />
<rect x="408.00" y="373.00" width="1.00" height="1.00" fill="#000" />
<rect x="434.00" y="373.00" width="1.00" height="1.00" fill="#000" />
<rect x="436.00" y="373.00" width="1.00" height="1.00" fill="#000" />
<rect x="456.00" y="373.00" width="1.00" height="1.00" fill="#000" />
<rect x="458.00" y="373.00" width="1.00" height="1.00" fill="#000" />
<rect x="486.00" y="373.00" width="1.00" height="1.00" fill="#000" />
<rect x="488.00" y="373.00" width="1.00" height="1.00" fill="#000" />
<rect x="505.00" y="373.00" width="1.00" height="1.00" fill="#000" />
<rect x="507.00" y="373.00" width="1.00" height="1.00" fill="#000" />
<rect x="548.00" y="373.00" width="1.00" height="1.00" fill="#000" />
<rect x="550.00" y="373.00" width="1.00" height="1.00" fill="#000" />
<rect x="561.00" y="373.00" width="1.00" height="1.00" fill="#000" />
<rect x="563.00" y="373.00" width="1.00" height="1.00" fill="#000" />
<rect x="471.00" y="374.00" width="8.00" height="4.00" fill="#fff" />
<rect x="364.00" y="385.00" width="222.00" height="13.00" fill="#000" />
<rect x="365.00" y="386.00" width="5.00" height="2.00" fill="#fff" />
<rect x="365.00" y="389.00" width="5.00" height="4.00" fill="#fff" />
<rect x="365.00" y="394.00" width="5.00" height="3.00" fill="#fff" />
<rect x="580.00" y="386.00" width="5.00" height="2.00" fill="#fff" />
<rect x="580.00" y="389.00" width="5.00" height="4.00" fill="#fff" />
<rect x="580.00" y="394.00" width="5.00" height="3.00" fill="#fff" />
<rect x="372.60" y="386.00" width="8.40" height="11.00" fill="#fff" />
<rect x="374.00" y="388.00" width="7.00" height="6.00" fill="#000" />
<rect x="375.30" y="389.30" width="4.40" height="2.70" fill="#fff" />
<rect x="375.30" y="392.00" width="1.70" height="2.00" fill="#fff" />
<rect x="372.60" y="394.60" width="5.40" height="2.40" fill="#000" />
<rect x="381.00" y="386.00" width="3.00" height="2.00" fill="#fff" />
<rect x="569.00" y="386.00" width="8.40" height="11.00" fill="#fff" />
<rect x="569.60" y="388.00" width="7.00" height="6.00" fill="#000" />
<rect x="570.80" y="389.30" width="4.40" height="2.70" fill="#fff" />
<rect x="573.50" y="392.00" width="1.70" height="2.00" fill="#fff" />
<rect x="572.60" y="394.60" width="4.80" height="2.40" fill="#000" />
<rect x="567.00" y="386.00" width="2.00" height="2.00" fill="#fff" />
<rect x="567.00" y="396.00" width="2.00" height="1.00" fill="#fff" />
<rect x="384.00" y="386.00" width="183.00" height="1.00" fill="#b0b0b0" />
<rect x="383.00" y="396.00" width="184.00" height="1.00" fill="#fff" />
<rect x="387.00" y="389.00" width="1.00" height="3.00" fill="#fff" />
<rect x="389.00" y="389.00" width="1.00" height="3.00" fill="#fff" />
<rect x="391.00" y="389.00" width="1.00" height="3.00" fill="#fff" />
<rect x="393.00" y="389.00" width="1.00" height="3.00" fill="#fff" />
<rect x="395.00" y="389.00" width="1.00" height="3.00" fill="#fff" />
<rect x="404.00" y="389.00" width="1.00" height="3.00" fill="#fff" />
<rect x="406.00" y="389.00" width="1.00" height="3.00" fill="#fff" />
<rect x="408.00" y="389.00" width="1.00" height="3.00" fill="#fff" />
<rect x="410.00" y="389.00" width="1.00" height="3.00" fill="#fff" />
<rect x="419.00" y="389.00" width="1.00" height="3.00" fill="#fff" />
<rect x="421.00" y="389.00" width="1.00" height="3.00" fill="#fff" />
<rect x="423.00" y="389.00" width="1.00" height="3.00" fill="#fff" />
<rect x="432.00" y="389.00" width="1.00" height="3.00" fill="#fff" />
<rect x="434.00" y="389.00" width="1.00" height="3.00" fill="#fff" />
<rect x="436.00" y="389.00" width="1.00" height="3.00" fill="#fff" />
<rect x="438.00" y="389.00" width="1.00" height="3.00" fill="#fff" />
<rect x="441.00" y="389.00" width="1.00" height="3.00" fill="#fff" />
<rect x="447.00" y="389.00" width="1.00" height="3.00" fill="#fff" />
<rect x="450.00" y="389.00" width="1.00" height="3.00" fill="#fff" />
<rect x="452.00" y="389.00" width="1.00" height="3.00" fill="#fff" />
<rect x="455.00" y="389.00" width="1.00" height="3.00" fill="#fff" />
<rect x="457.00" y="389.00" width="1.00" height="3.00" fill="#fff" />
<rect x="459.00" y="389.00" width="1.00" height="3.00" fill="#fff" />
<rect x="461.00" y="389.00" width="1.00" height="3.00" fill="#fff" />
<rect x="462.00" y="389.00" width="1.00" height="3.00" fill="#fff" />
<rect x="465.00" y="389.00" width="1.00" height="3.00" fill="#fff" />
<rect x="467.00" y="389.00" width="1.00" height="3.00" fill="#fff" />
<rect x="484.00" y="389.00" width="1.00" height="3.00" fill="#fff" />
<rect x="486.00" y="389.00" width="1.00" height="3.00" fill="#fff" />
<rect x="488.00" y="389.00" width="1.00" height="3.00" fill="#fff" />
<rect x="490.00" y="389.00" width="1.00" height="3.00" fill="#fff" />
<rect x="504.00" y="389.00" width="1.00" height="3.00" fill="#fff" />
<rect x="506.00" y="389.00" width="1.00" height="3.00" fill="#fff" />
<rect x="508.00" y="389.00" width="1.00" height="3.00" fill="#fff" />
<rect x="510.00" y="389.00" width="1.00" height="3.00" fill="#fff" />
<rect x="519.00" y="389.00" width="1.00" height="3.00" fill="#fff" />
<rect x="521.00" y="389.00" width="1.00" height="3.00" fill="#fff" />
<rect x="523.00" y="389.00" width="1.00" height="3.00" fill="#fff" />
<rect x="535.00" y="389.00" width="1.00" height="3.00" fill="#fff" />
<rect x="537.00" y="389.00" width="1.00" height="3.00" fill="#fff" />
<rect x="539.00" y="389.00" width="1.00" height="3.00" fill="#fff" />
<rect x="545.00" y="389.00" width="1.00" height="3.00" fill="#fff" />
<rect x="547.00" y="389.00" width="1.00" height="3.00" fill="#fff" />
<rect x="549.00" y="389.00" width="1.00" height="3.00" fill="#fff" />
<rect x="551.00" y="389.00" width="1.00" height="3.00" fill="#fff" />
<rect x="553.00" y="389.00" width="1.00" height="3.00" fill="#fff" />
<rect x="556.00" y="389.00" width="1.00" height="3.00" fill="#fff" />
<rect x="560.00" y="389.00" width="1.00" height="3.00" fill="#fff" />
<rect x="562.00" y="389.00" width="1.00" height="3.00" fill="#fff" />
<rect x="564.00" y="389.00" width="1.00" height="3.00" fill="#fff" />
<rect x="389.00" y="386.00" width="1.00" height="1.00" fill="#000" />
<rect x="391.00" y="386.00" width="1.00" height="1.00" fill="#000" />
<rect x="406.00" y="386.00" width="1.00" height="1.00" fill="#000" />
<rect x="408.00" y="386.00" width="1.00" height="1.00" fill="#000" />
<rect x="434.00" y="386.00" width="1.00" height="1.00" fill="#000" />
<rect x="436.00" y="386.00" width="1.00" height="1.00" fill="#000" />
<rect x="456.00" y="386.00" width="1.00" height="1.00" fill="#000" />
<rect x="458.00" y="386.00" width="1.00" height="1.00" fill="#000" />
<rect x="486.00" y="386.00" width="1.00" height="1.00" fill="#000" />
<rect x="488.00" y="386.00" width="1.00" height="1.00" fill="#000" />
<rect x="505.00" y="386.00" width="1.00" height="1.00" fill="#000" />
<rect x="507.00" y="386.00" width="1.00" height="1.00" fill="#000" />
<rect x="548.00" y="386.00" width="1.00" height="1.00" fill="#000" />
<rect x="550.00" y="386.00" width="1.00" height="1.00" fill="#000" />
<rect x="561.00" y="386.00" width="1.00" height="1.00" fill="#000" />
<rect x="563.00" y="386.00" width="1.00" height="1.00" fill="#000" />
<rect x="471.00" y="392.00" width="8.00" height="4.00" fill="#fff" />
<rect x="453.10" y="352.20" width="44.00" height="10.90" fill="#fff" />
<rect x="453.10" y="378.90" width="44.00" height="10.90" fill="#fff" />
<polygon points="512.8,345 514.9,340 514.9,331 517.3,331 517.3,340 520.0,345" fill="#000"/>
<rect x="504.60" y="344.60" width="23.80" height="12.80" fill="#fff" stroke="#000" stroke-width="1.2" rx="1"/>
<polygon points="514.4,346.2 515.8,342 517.2,346.2" fill="#fff"/>
<rect x="594.30" y="319.30" width="18.30" height="89.10" fill="#fff" stroke="#000" stroke-width="0.9" rx="0"/>
<rect x="595.50" y="320.00" width="0.70" height="88.00" fill="#000" />
<rect x="597.50" y="319.50" width="2.00" height="1.30" fill="#000" />
<rect x="596.40" y="324.00" width="5.60" height="5.40" fill="#000" />
<rect x="597.50" y="325.10" width="3.30" height="3.10" fill="#fff" />
<rect x="596.40" y="331.55" width="5.60" height="5.40" fill="#000" />
<rect x="597.50" y="332.65" width="3.30" height="3.10" fill="#fff" />
<rect x="596.40" y="339.10" width="5.60" height="5.40" fill="#000" />
<rect x="597.50" y="340.20" width="3.30" height="3.10" fill="#fff" />
<rect x="596.40" y="346.65" width="5.60" height="5.40" fill="#000" />
<rect x="597.50" y="347.75" width="3.30" height="3.10" fill="#fff" />
<rect x="596.40" y="354.20" width="5.60" height="5.40" fill="#000" />
<rect x="597.50" y="355.30" width="3.30" height="3.10" fill="#fff" />
<rect x="596.40" y="361.75" width="5.60" height="5.40" fill="#000" />
<rect x="597.50" y="362.85" width="3.30" height="3.10" fill="#fff" />
<rect x="596.40" y="369.30" width="5.60" height="5.40" fill="#000" />
<rect x="597.50" y="370.40" width="3.30" height="3.10" fill="#fff" />
<rect x="596.40" y="376.85" width="5.60" height="5.40" fill="#000" />
<rect x="597.50" y="377.95" width="3.30" height="3.10" fill="#fff" />
<rect x="596.40" y="384.40" width="5.60" height="5.40" fill="#000" />
<rect x="597.50" y="385.50" width="3.30" height="3.10" fill="#fff" />
<rect x="596.40" y="391.95" width="5.60" height="5.40" fill="#000" />
<rect x="597.50" y="393.05" width="3.30" height="3.10" fill="#fff" />
<rect x="596.40" y="399.50" width="5.60" height="5.40" fill="#000" />
<rect x="597.50" y="400.60" width="3.30" height="3.10" fill="#fff" />
<rect x="603.20" y="320.70" width="1.60" height="5.30" fill="#000" />
<rect x="607.00" y="321.90" width="4.00" height="2.40" fill="#000" />
<rect x="607.80" y="320.90" width="2.60" height="4.40" fill="#000" />
<rect x="603.20" y="328.20" width="1.60" height="5.30" fill="#000" />
<rect x="607.00" y="329.40" width="4.00" height="2.40" fill="#000" />
<rect x="607.80" y="328.40" width="2.60" height="4.40" fill="#000" />
<rect x="603.20" y="335.70" width="1.60" height="5.30" fill="#000" />
<rect x="607.00" y="336.90" width="4.00" height="2.40" fill="#000" />
<rect x="607.80" y="335.90" width="2.60" height="4.40" fill="#000" />
<rect x="603.20" y="343.20" width="1.60" height="5.30" fill="#000" />
<rect x="607.00" y="344.40" width="4.00" height="2.40" fill="#000" />
<rect x="607.80" y="343.40" width="2.60" height="4.40" fill="#000" />
<rect x="603.20" y="350.70" width="1.60" height="5.30" fill="#000" />
<rect x="607.00" y="351.90" width="4.00" height="2.40" fill="#000" />
<rect x="607.80" y="350.90" width="2.60" height="4.40" fill="#000" />
<rect x="603.20" y="358.20" width="1.60" height="5.30" fill="#000" />
<rect x="607.00" y="359.40" width="4.00" height="2.40" fill="#000" />
<rect x="607.80" y="358.40" width="2.60" height="4.40" fill="#000" />
<rect x="603.20" y="365.70" width="1.60" height="5.30" fill="#000" />
<rect x="607.00" y="366.90" width="4.00" height="2.40" fill="#000" />
<rect x="607.80" y="365.90" width="2.60" height="4.40" fill="#000" />
<rect x="603.20" y="373.20" width="1.60" height="5.30" fill="#000" />
<rect x="607.00" y="374.40" width="4.00" height="2.40" fill="#000" />
<rect x="607.80" y="373.40" width="2.60" height="4.40" fill="#000" />
<rect x="603.20" y="380.70" width="1.60" height="5.30" fill="#000" />
<rect x="607.00" y="381.90" width="4.00" height="2.40" fill="#000" />
<rect x="607.80" y="380.90" width="2.60" height="4.40" fill="#000" />
<rect x="603.20" y="388.20" width="1.60" height="5.30" fill="#000" />
<rect x="607.00" y="389.40" width="4.00" height="2.40" fill="#000" />
<rect x="607.80" y="388.40" width="2.60" height="4.40" fill="#000" />
<rect x="603.20" y="395.70" width="1.60" height="5.30" fill="#000" />
<rect x="607.00" y="396.90" width="4.00" height="2.40" fill="#000" />
<rect x="607.80" y="395.90" width="2.60" height="4.40" fill="#000" />
<rect x="603.20" y="403.20" width="1.60" height="4.80" fill="#000" />
<rect x="607.00" y="404.40" width="4.00" height="2.40" fill="#000" />
<rect x="607.80" y="403.40" width="2.60" height="4.40" fill="#000" />
<rect x="606.00" y="320.00" width="0.70" height="88.00" fill="#000" />
<rect x="608.60" y="321.00" width="1.00" height="86.00" fill="#000" />
<rect x="621.30" y="326.80" width="5.80" height="25.00" fill="#000" />
<rect x="623.00" y="331.00" width="3.00" height="1.00" fill="#fff" />
<rect x="623.00" y="336.00" width="3.00" height="1.00" fill="#fff" />
<rect x="623.00" y="340.00" width="3.00" height="1.00" fill="#fff" />
<rect x="623.00" y="344.00" width="3.00" height="1.00" fill="#fff" />
<rect x="623.00" y="348.00" width="3.00" height="3.00" fill="#fff" />
<rect x="624.00" y="349.00" width="1.00" height="1.00" fill="#000" />
<rect x="629.00" y="308.00" width="26.00" height="13.00" fill="#fff" stroke="#000" stroke-width="2.0" rx="2.2"/>
<polygon points="630.20,321.00 629.10,322.22 623.46,327.00 623.74,327.40 630.14,323.69 634.60,321.00" fill="#fff" stroke="#000" stroke-width="2.0" stroke-linejoin="miter"/>
<rect x="631.20" y="319.40" width="2.40" height="2.70" fill="#fff" />
<rect x="633.40" y="325.50" width="32.00" height="31.00" fill="#fff" stroke="#000" stroke-width="1.0" rx="0"/>
<rect x="660.30" y="325.00" width="5.70" height="32.00" fill="#000" />
<rect x="637.00" y="334.00" width="23.00" height="13.00" fill="#fff" stroke="#000" stroke-width="2" rx="1.5"/>
<polygon points="640,370 659.8,370 659.8,367 662,367 662,364 665.4,364 665.4,405 662,405 662,402.4 659.8,402.4 659.8,399.8 640,399.8 640,394.6 638,394.6 638,375 640,375" fill="#000"/>
<rect x="635.60" y="377.20" width="3.20" height="6.00" fill="#fff" stroke="#000" stroke-width="1.0" rx="0"/>
<rect x="635.60" y="386.20" width="3.20" height="6.20" fill="#fff" stroke="#000" stroke-width="1.0" rx="0"/>
<g>
<text x="48.50" y="25.10" font-size="10.0" text-anchor="middle" fill="#000" stroke="#000" stroke-width="0.15" font-weight="normal" letter-spacing="0.2" >J1</text>
<text x="48.50" y="55.10" font-size="10.0" text-anchor="middle" fill="#000" stroke="#000" stroke-width="0.15" font-weight="normal" letter-spacing="0.2" >J2</text>
<text x="48.50" y="74.60" font-size="10.0" text-anchor="middle" fill="#000" stroke="#000" stroke-width="0.15" font-weight="normal" letter-spacing="0.2" >J3</text>
<text x="48.50" y="90.60" font-size="10.0" text-anchor="middle" fill="#000" stroke="#000" stroke-width="0.15" font-weight="normal" letter-spacing="0.2" >J4</text>
<text x="48.50" y="106.10" font-size="10.0" text-anchor="middle" fill="#000" stroke="#000" stroke-width="0.15" font-weight="normal" letter-spacing="0.2" >J5</text>
<text x="48.50" y="121.10" font-size="10.0" text-anchor="middle" fill="#000" stroke="#000" stroke-width="0.15" font-weight="normal" letter-spacing="0.2" >J6</text>
<text x="44.50" y="136.10" font-size="10.0" text-anchor="middle" fill="#000" stroke="#000" stroke-width="0.15" font-weight="normal" letter-spacing="0.8" >JP5</text>
<text x="42.00" y="152.10" font-size="10.0" text-anchor="middle" fill="#000" stroke="#000" stroke-width="0.15" font-weight="normal" letter-spacing="0.8" >JP14</text>
<text x="37.50" y="176.60" font-size="10.0" text-anchor="middle" fill="#000" stroke="#000" stroke-width="0.15" font-weight="normal" letter-spacing="0.8" >JP7</text>
<text x="57.00" y="197.10" font-size="10.0" text-anchor="middle" fill="#000" stroke="#000" stroke-width="0.15" font-weight="normal" letter-spacing="0.8" >JP9</text>
<text x="144.00" y="40.53" font-size="9.8" text-anchor="middle" fill="#000" stroke="#000" stroke-width="0.15" font-weight="normal" letter-spacing="0" >VRM</text>
<text x="222.70" y="66.10" font-size="10.0" text-anchor="middle" fill="#000" stroke="#000" stroke-width="0.15" font-weight="normal" letter-spacing="0.2" >J7</text>
<text x="96.00" y="89.20" font-size="12.6" text-anchor="start" fill="#fff" stroke="#fff" stroke-width="0.15" font-weight="normal" letter-spacing="0.5" >AMP</text>
<text x="144.60" y="152.10" font-size="10.0" text-anchor="middle" fill="#000" stroke="#000" stroke-width="0.15" font-weight="normal" letter-spacing="1.0" >CPU</text>
<text transform="translate(260.20,29.90) scale(0.62,1)" font-size="11" text-anchor="start" fill="#000" stroke="#000" stroke-width="0.15" font-weight="normal">B</text>
<text transform="translate(267.20,29.90) scale(0.9,1)" font-size="11" text-anchor="start" fill="#000" stroke="#000" stroke-width="0.15" font-weight="normal">I</text>
<text transform="translate(269.90,29.90) scale(0.62,1)" font-size="11" text-anchor="start" fill="#000" stroke="#000" stroke-width="0.15" font-weight="normal">O</text>
<text transform="translate(277.90,29.90) scale(0.85,1)" font-size="11" text-anchor="start" fill="#000" stroke="#000" stroke-width="0.15" font-weight="normal">S</text>
<text x="251.50" y="109.90" font-size="10.7" text-anchor="start" fill="#fff" stroke="#fff" stroke-width="0.5" font-weight="bold" textLength="5.299999999999988" lengthAdjust="spacingAndGlyphs">R</text>
<text x="257.20" y="109.90" font-size="10.7" text-anchor="start" fill="#fff" stroke="#fff" stroke-width="0.5" font-weight="bold" textLength="4.799999999999988" lengthAdjust="spacingAndGlyphs">E</text>
<text x="262.20" y="109.90" font-size="10.7" text-anchor="start" fill="#fff" stroke="#fff" stroke-width="0.5" font-weight="bold" textLength="5.999999999999977" lengthAdjust="spacingAndGlyphs">A</text>
<text x="268.70" y="109.90" font-size="10.7" text-anchor="start" fill="#fff" stroke="#fff" stroke-width="0.5" font-weight="bold" textLength="5.200000000000022" lengthAdjust="spacingAndGlyphs">L</text>
<text x="281.40" y="109.90" font-size="10.7" text-anchor="start" fill="#fff" stroke="#fff" stroke-width="0.5" font-weight="bold" textLength="6.200000000000022" lengthAdjust="spacingAndGlyphs">T</text>
<text x="288.00" y="109.90" font-size="10.7" text-anchor="start" fill="#fff" stroke="#fff" stroke-width="0.5" font-weight="bold" textLength="2.699999999999966" lengthAdjust="spacingAndGlyphs">I</text>
<text x="291.50" y="109.90" font-size="10.7" text-anchor="start" fill="#fff" stroke="#fff" stroke-width="0.5" font-weight="bold" textLength="5.799999999999988" lengthAdjust="spacingAndGlyphs">M</text>
<text x="297.70" y="109.90" font-size="10.7" text-anchor="start" fill="#fff" stroke="#fff" stroke-width="0.5" font-weight="bold" textLength="5.799999999999988" lengthAdjust="spacingAndGlyphs">E</text>
<text x="261.40" y="120.90" font-size="10.7" text-anchor="start" fill="#fff" stroke="#fff" stroke-width="0.5" font-weight="bold" textLength="6.000000000000034" lengthAdjust="spacingAndGlyphs">C</text>
<text x="268.10" y="120.90" font-size="10.7" text-anchor="start" fill="#fff" stroke="#fff" stroke-width="0.5" font-weight="bold" textLength="5.300000000000045" lengthAdjust="spacingAndGlyphs">L</text>
<text x="273.90" y="120.90" font-size="10.7" text-anchor="start" fill="#fff" stroke="#fff" stroke-width="0.5" font-weight="bold" textLength="6.299999999999988" lengthAdjust="spacingAndGlyphs">O</text>
<text x="280.60" y="120.90" font-size="10.7" text-anchor="start" fill="#fff" stroke="#fff" stroke-width="0.5" font-weight="bold" textLength="6.1" lengthAdjust="spacingAndGlyphs">C</text>
<text x="287.10" y="120.90" font-size="10.7" text-anchor="start" fill="#fff" stroke="#fff" stroke-width="0.5" font-weight="bold" textLength="6.000000000000034" lengthAdjust="spacingAndGlyphs">K</text>
<text x="530.00" y="34.80" font-size="9" text-anchor="middle" fill="#000" stroke="#000" stroke-width="0.15" font-weight="normal" letter-spacing="0.3" >M3536</text>
<text x="334.00" y="21.10" font-size="10.0" text-anchor="middle" fill="#000" stroke="#000" stroke-width="0.15" font-weight="normal" letter-spacing="0.8" >JP6</text>
<text x="642.60" y="99.60" font-size="10.4" text-anchor="middle" fill="#000" stroke="#000" stroke-width="0.15" font-weight="normal" letter-spacing="0.1" >KBD</text>
<text x="494.40" y="159.80" font-size="10.4" text-anchor="middle" fill="#000" stroke="#000" stroke-width="0.15" font-weight="normal" letter-spacing="0.2" >PC4</text>
<text x="494.40" y="195.10" font-size="10.4" text-anchor="middle" fill="#000" stroke="#000" stroke-width="0.15" font-weight="normal" letter-spacing="0.2" >PC3</text>
<text x="494.40" y="230.70" font-size="10.4" text-anchor="middle" fill="#000" stroke="#000" stroke-width="0.15" font-weight="normal" letter-spacing="0.2" >PC2</text>
<text x="494.40" y="266.10" font-size="10.4" text-anchor="middle" fill="#000" stroke="#000" stroke-width="0.15" font-weight="normal" letter-spacing="0.2" >PC1</text>
<text x="619.60" y="144.80" font-size="10.8" text-anchor="middle" fill="#000" stroke="#000" stroke-width="0.15" font-weight="normal" letter-spacing="0" >2</text>
<text x="655.50" y="155.60" font-size="10.0" text-anchor="middle" fill="#000" stroke="#000" stroke-width="0.15" font-weight="normal" letter-spacing="0.8" >JP15</text>
<text x="654.50" y="173.10" font-size="10.0" text-anchor="middle" fill="#000" stroke="#000" stroke-width="0.15" font-weight="normal" letter-spacing="0.8" >JP12</text>
<text x="562.00" y="177.10" font-size="10.0" text-anchor="middle" fill="#000" stroke="#000" stroke-width="0.15" font-weight="normal" letter-spacing="0.2" >J25</text>
<text x="614.80" y="193.00" font-size="10.5" text-anchor="middle" fill="#000" stroke="#000" stroke-width="0.15" font-weight="normal" letter-spacing="0" >J24</text>
<text x="166.40" y="238.00" font-size="10.6" text-anchor="middle" fill="#000" stroke="#000" stroke-width="0.15" font-weight="normal" letter-spacing="0.5" >SL1</text>
<text x="35.00" y="255.10" font-size="10.0" text-anchor="middle" fill="#000" stroke="#000" stroke-width="0.15" font-weight="normal" letter-spacing="0.8" >JP10</text>
<text x="17.80" y="275.10" font-size="10" text-anchor="middle" fill="#000" stroke="#000" stroke-width="0.15" font-weight="normal" letter-spacing="0.2" >JP11</text>
<text x="103.00" y="301.00" font-size="9.8" text-anchor="middle" fill="#000" stroke="#000" stroke-width="0.15" font-weight="normal" letter-spacing="0" >B</text>
<text x="103.00" y="312.90" font-size="9.8" text-anchor="middle" fill="#000" stroke="#000" stroke-width="0.15" font-weight="normal" letter-spacing="0" >A</text>
<text x="103.00" y="324.80" font-size="9.8" text-anchor="middle" fill="#000" stroke="#000" stroke-width="0.15" font-weight="normal" letter-spacing="0" >N</text>
<text x="103.00" y="336.70" font-size="9.8" text-anchor="middle" fill="#000" stroke="#000" stroke-width="0.15" font-weight="normal" letter-spacing="0" >K</text>
<text x="103.00" y="348.60" font-size="9.8" text-anchor="middle" fill="#000" stroke="#000" stroke-width="0.15" font-weight="normal" letter-spacing="0" >0</text>
<text x="56.00" y="324.70" font-size="10" text-anchor="middle" fill="#000" stroke="#000" stroke-width="0.15" font-weight="normal" letter-spacing="0" >CACHE</text>
<text x="30.50" y="344.10" font-size="10.0" text-anchor="middle" fill="#000" stroke="#000" stroke-width="0.15" font-weight="normal" letter-spacing="0.5" >TP1</text>
<text x="309.00" y="239.60" font-size="10.0" text-anchor="middle" fill="#000" stroke="#000" stroke-width="0.15" font-weight="normal" letter-spacing="0.3" >JPS2</text>
<text x="325.00" y="258.60" font-size="10.0" text-anchor="middle" fill="#000" stroke="#000" stroke-width="0.15" font-weight="normal" letter-spacing="0.3" >JPS1</text>
<text x="240.90" y="288.20" font-size="10.5" text-anchor="middle" fill="#000" stroke="#000" stroke-width="0.15" font-weight="normal" letter-spacing="0" >TAG</text>
<text x="366.00" y="289.60" font-size="10.0" text-anchor="middle" fill="#000" stroke="#000" stroke-width="0.15" font-weight="normal" letter-spacing="0.8" >JP1</text>
<text x="338.00" y="311.60" font-size="10" text-anchor="middle" fill="#000" stroke="#000" stroke-width="0.15" font-weight="normal" letter-spacing="0" >CN5</text>
<text x="338.00" y="329.60" font-size="10" text-anchor="middle" fill="#000" stroke="#000" stroke-width="0.15" font-weight="normal" letter-spacing="0" >CN6</text>
<text x="505.00" y="286.67" font-size="10.2" text-anchor="middle" fill="#000" stroke="#000" stroke-width="0.15" font-weight="normal" letter-spacing="0.2" >CN3</text>
<text x="581.00" y="287.67" font-size="10.2" text-anchor="middle" fill="#000" stroke="#000" stroke-width="0.15" font-weight="normal" letter-spacing="0.2" >CN1</text>
<text x="588.50" y="312.67" font-size="10.2" text-anchor="middle" fill="#000" stroke="#000" stroke-width="0.15" font-weight="normal" letter-spacing="0.2" >CN2</text>
<text x="475.00" y="361.60" font-size="10.4" text-anchor="middle" fill="#000" stroke="#000" stroke-width="0.15" font-weight="normal" letter-spacing="0.45" >BANK 0</text>
<text x="475.00" y="388.30" font-size="10.4" text-anchor="middle" fill="#000" stroke="#000" stroke-width="0.15" font-weight="normal" letter-spacing="0.45" >BANK 1</text>
<text x="516.50" y="354.74" font-size="10.4" text-anchor="middle" fill="#000" stroke="#000" stroke-width="0.15" font-weight="normal" letter-spacing="0.2" >CN4</text>
<text x="642.00" y="318.10" font-size="10.0" text-anchor="middle" fill="#000" stroke="#000" stroke-width="0.15" font-weight="normal" letter-spacing="0.2" >J10</text>
<text x="648.40" y="344.20" font-size="10.2" text-anchor="middle" fill="#000" stroke="#000" stroke-width="0.15" font-weight="normal" letter-spacing="0" >CN7</text>
</g>
</svg>
</body></html>
